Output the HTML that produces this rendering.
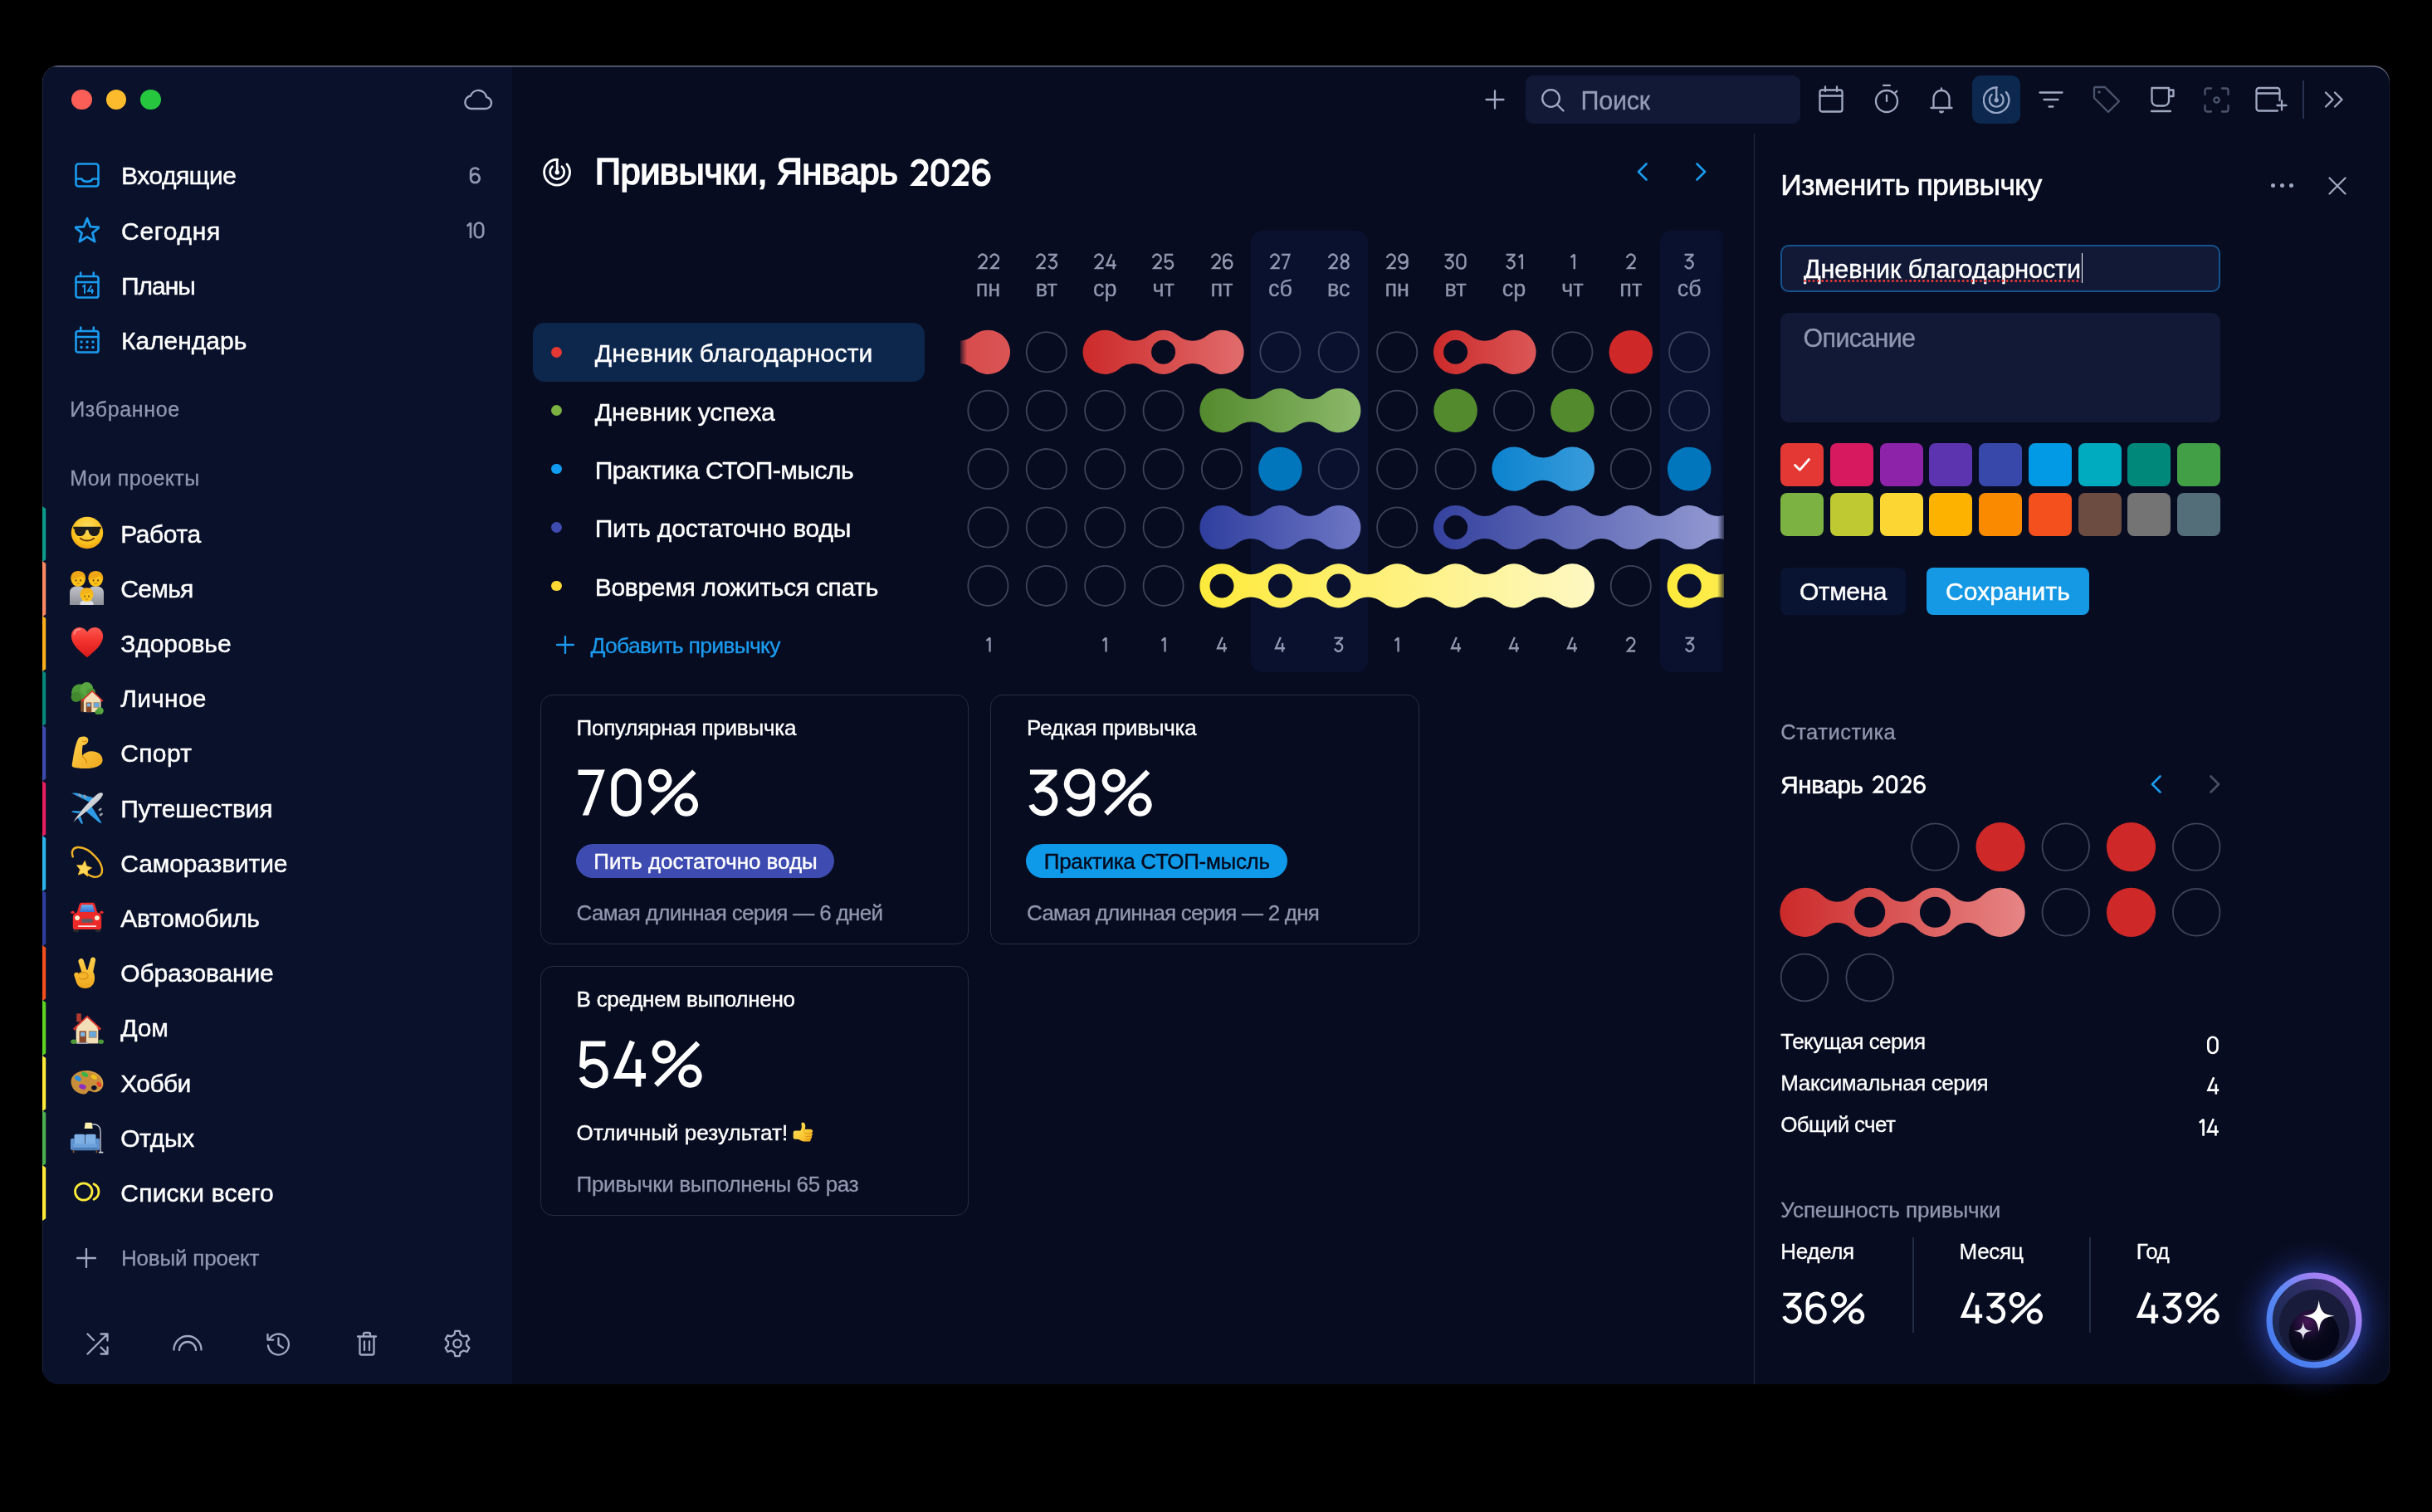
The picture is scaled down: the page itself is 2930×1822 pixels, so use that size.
<!DOCTYPE html>
<html lang="ru"><head><meta charset="utf-8"><title>Привычки</title>
<style>
html,body{margin:0;padding:0;background:#000;}
body{width:2930px;height:1822px;position:relative;overflow:hidden;font-family:"Liberation Sans", sans-serif;}
.b{position:absolute;display:block;box-sizing:border-box;}
.t{position:absolute;white-space:pre;line-height:1;font-family:"Liberation Sans", sans-serif;}
#root{position:absolute;left:0;top:0;width:2930px;height:1822px;will-change:transform;opacity:.9999;}
</style></head>
<body>
<div id="root">
<div class="b" style="left:51px;top:79px;width:2828px;height:1589px;border-radius:20px;background:#080d21;overflow:hidden;box-shadow:inset 0 1.5px 0 rgba(190,196,215,.55), inset 1px 0 0 rgba(255,255,255,.10), inset -1px 0 0 rgba(255,255,255,.06);"><div class="b" style="left:0;top:0;width:566px;height:1589px;background:#0b122c;box-shadow:inset 0 1.5px 0 rgba(190,196,215,.55), inset 1px 0 0 rgba(255,255,255,.10);"></div></div>
<div class="b" style="left:86.20px;top:107.90px;width:24.60px;height:24.60px;background:#fc5f57;border-radius:13px;"></div>
<div class="b" style="left:127.60px;top:107.90px;width:24.60px;height:24.60px;background:#fcbc2e;border-radius:13px;"></div>
<div class="b" style="left:169.00px;top:107.90px;width:24.60px;height:24.60px;background:#27c840;border-radius:13px;"></div>
<svg class="b" style="left:558.00px;top:106.00px;" width="36" height="28" viewBox="0 0 36 28"><path d="M9.5 25 H27 a7 7 0 0 0 1.2-13.9 A10 10 0 0 0 9 9.5 a7.8 7.8 0 0 0 .5 15.5z" fill="none" stroke="#a2aac3" stroke-width="2.3" stroke-linejoin="round"/></svg>
<svg class="b" style="left:89.70px;top:193.90px;" width="30" height="33" viewBox="0 -2 30 33"><rect x="1.5" y="1.5" width="27" height="27" rx="3" fill="none" stroke="#1c9cf0" stroke-width="2.6" stroke-linecap="round" stroke-linejoin="round"/><path d="M1.5 19.5 h7 c1.5 4.5 11.5 4.5 13 0 h7" fill="none" stroke="#1c9cf0" stroke-width="2.6" stroke-linecap="round" stroke-linejoin="round"/></svg>
<span class="t" style="left:146.00px;top:197.30px;font-size:30px;color:#fff;letter-spacing:-0.464px;-webkit-text-stroke:0.45px #fff;">Входящие</span>
<svg class="b" style="left:564.42px;top:200.00px" width="16.78" height="22.80" viewBox="-10 -10 88.30 120"><g transform="translate(0.00 0)"><g transform="rotate(180 34.15 50)"><path d="M34.1 3.85 a27.85 27.85 0 1 0 .01 0z M61.95 31.7 V68.9 A27.85 27.85 0 0 1 10.5 83.66" fill="none" stroke="#9198b0" stroke-width="13.9" /></g></g></svg>
<svg class="b" style="left:89.70px;top:260.15px;" width="30" height="33" viewBox="0 -2 30 33"><path transform="translate(15 15.500) scale(1.07) translate(-15 -15.200)" d="M15 1.8 l3.7 9.3 10 .7 -7.7 6.4 2.5 9.7 L15 22.5 6.5 27.9 9 18.2 1.3 11.8 l10-.7z" fill="none" stroke="#1c9cf0" stroke-width="2.6" stroke-linecap="round" stroke-linejoin="round"/></svg>
<span class="t" style="left:146.00px;top:263.55px;font-size:30px;color:#fff;letter-spacing:0.719px;-webkit-text-stroke:0.45px #fff;">Сегодня</span>
<svg class="b" style="left:559.93px;top:266.25px" width="25.27" height="22.80" viewBox="-10 -10 133.00 120"><g transform="translate(0.00 0)"><path d="M4 24 L26.85 4.5 V100" fill="none" stroke="#9198b0" stroke-width="13.9" stroke-linejoin="miter" stroke-miterlimit="2"/></g><g transform="translate(46.60 0)"><path d="M6.15 31.8 A27.05 28.5 0 0 1 60.25 31.8 V68.2 A27.05 28.5 0 0 1 6.15 68.2z" fill="none" stroke="#9198b0" stroke-width="13.9" /></g></svg>
<svg class="b" style="left:89.70px;top:327.20px;" width="30" height="33" viewBox="0 -2 30 33"><rect x="1.5" y="4" width="27" height="25.500" rx="2.600" fill="none" stroke="#1c9cf0" stroke-width="2.6" stroke-linecap="round" stroke-linejoin="round"/><path d="M1.5 11 h27 M7.200 -0.500 v4.500 M22.800 -0.500 v4.500" fill="none" stroke="#1c9cf0" stroke-width="2.6" stroke-linecap="round" stroke-linejoin="round"/><path d="M9.300 16.800 l2.700-2 V24.700 M20.300 15 l-4.300 6.800 h6.800 M21 19 v5.700" fill="none" stroke="#1c9cf0" stroke-width="2" stroke-linejoin="miter"/></svg>
<span class="t" style="left:146.00px;top:329.80px;font-size:30px;color:#fff;letter-spacing:-1.023px;-webkit-text-stroke:0.45px #fff;">Планы</span>
<svg class="b" style="left:89.70px;top:393.45px;" width="30" height="33" viewBox="0 -2 30 33"><rect x="1.5" y="4" width="27" height="25.500" rx="2.600" fill="none" stroke="#1c9cf0" stroke-width="2.6" stroke-linecap="round" stroke-linejoin="round"/><path d="M1.5 11 h27 M7.200 -0.500 v4.500 M22.800 -0.500 v4.500" fill="none" stroke="#1c9cf0" stroke-width="2.6" stroke-linecap="round" stroke-linejoin="round"/><circle cx="8" cy="17" r="1.700" fill="#1c9cf0"/><circle cx="15" cy="17" r="1.700" fill="#1c9cf0"/><circle cx="22" cy="17" r="1.700" fill="#1c9cf0"/><circle cx="8" cy="23.5" r="1.700" fill="#1c9cf0"/><circle cx="15" cy="23.5" r="1.700" fill="#1c9cf0"/><circle cx="22" cy="23.5" r="1.700" fill="#1c9cf0"/></svg>
<span class="t" style="left:146.00px;top:396.05px;font-size:30px;color:#fff;letter-spacing:-0.015px;-webkit-text-stroke:0.45px #fff;">Календарь</span>
<span class="t" style="left:84.20px;top:481.25px;font-size:25px;color:#9198b0;letter-spacing:0.662px;-webkit-text-stroke:0.3px #9198b0;">Избранное</span>
<span class="t" style="left:84.20px;top:563.75px;font-size:25px;color:#9198b0;letter-spacing:0.419px;-webkit-text-stroke:0.3px #9198b0;">Мои проекты</span>
<svg class="b" style="left:51px;top:609.60px" width="6" height="67.2" viewBox="0 0 6 67.2"><path d="M0 0 L4.2 3 V64.2 L0 67.2z" fill="#0e9c8c"/></svg>
<span class="t" style="left:145.30px;top:628.60px;font-size:30px;color:#fff;letter-spacing:-0.440px;-webkit-text-stroke:0.45px #fff;">Работа</span>
<svg class="b" style="left:84.80px;top:622.00px" width="40" height="40" viewBox="0 0 36 36">
<defs><radialGradient id="gFace" cx="50%" cy="35%" r="70%"><stop offset="0" stop-color="#ffe066"/><stop offset=".7" stop-color="#fcc21b"/><stop offset="1" stop-color="#ee9b14"/></radialGradient></defs>
<circle cx="18" cy="18" r="17.3" fill="url(#gFace)"/>
<path d="M3 11.5 h30 v2 l-1.200 .6 c-.4 5 -2.600 7.600 -6.300 7.600 -3.600 0 -5.600 -2.600 -6.300 -6.600 h-2.400 c-.7 4 -2.700 6.600 -6.300 6.600 -3.700 0 -5.900 -2.600 -6.300 -7.600 L3 13.500z" fill="#1d1d1f"/>
<path d="M10.500 24 c3.500 3.400 11.500 3.400 15 0" fill="none" stroke="#6b3c06" stroke-width="1.7" stroke-linecap="round"/></svg>
<svg class="b" style="left:51px;top:675.80px" width="6" height="67.2" viewBox="0 0 6 67.2"><path d="M0 0 L4.2 3 V64.2 L0 67.2z" fill="#ff8a65"/></svg>
<span class="t" style="left:145.30px;top:694.80px;font-size:30px;color:#fff;letter-spacing:-0.715px;-webkit-text-stroke:0.45px #fff;">Семья</span>
<svg class="b" style="left:84.30px;top:687.70px" width="41" height="41" viewBox="0 0 36 36">
<defs><linearGradient id="gGrey" x1="0" y1="0" x2="0" y2="1"><stop offset="0" stop-color="#c3c6cc"/><stop offset="1" stop-color="#8e9197"/></linearGradient></defs>
<path d="M0 36 V23 c0-4.500 3.500-7 8.500-7 s8.500 2.500 8.500 7 V36z" fill="url(#gGrey)"/>
<path d="M19 36 V23 c0-4.500 3.500-7 8.500-7 s8.500 2.500 8.500 7 V36z" fill="url(#gGrey)"/>
<circle cx="9" cy="8.800" r="7.600" fill="#fcc21b"/><path d="M1.200 9 c-.5-6 3-9 7.800-9 s8.300 3 7.800 9 c-2-1-3.200-2.800-3.700-4.500 -1.600 2.200-6.400 3.800-11.900 4.500z" fill="#f0a818"/>
<circle cx="27.500" cy="8.800" r="7.600" fill="#fcc21b"/><path d="M19.700 9 c-.5-6 3-9 7.800-9 s8.300 3 7.800 9 c-2-1-3.200-2.800-3.700-4.500 -1.600 2.200-6.400 3.800-11.900 4.500z" fill="#f0a818"/>
<path d="M11 36 v-1.500 c0-2.200 2.800-3.500 7-3.500 s7 1.300 7 3.500 v1.500z" fill="#dfe1e6"/>
<circle cx="18" cy="25.600" r="6.800" fill="#fcc21b"/><path d="M11 25.500 c-.3-5.200 2.900-7.700 7-7.700 s7.300 2.500 7 7.700 c-1.700-.9-2.800-2.300-3.300-3.700 -1.600 1.800-6.200 3.100-10.700 3.700z" fill="#f4b41e"/>
<circle cx="6.600" cy="10" r=".9" fill="#6a420c"/><circle cx="11.400" cy="10" r=".9" fill="#6a420c"/>
<circle cx="25.100" cy="10" r=".9" fill="#6a420c"/><circle cx="29.900" cy="10" r=".9" fill="#6a420c"/>
<circle cx="15.900" cy="26.800" r=".8" fill="#6a420c"/><circle cx="20.100" cy="26.800" r=".8" fill="#6a420c"/>
<path d="M7.800 13.200 h2.400 M26.300 13.200 h2.400 M17 29.800 h2" stroke="#b8720e" stroke-width=".7" stroke-linecap="round"/></svg>
<svg class="b" style="left:51px;top:742.00px" width="6" height="67.2" viewBox="0 0 6 67.2"><path d="M0 0 L4.2 3 V64.2 L0 67.2z" fill="#fbb01c"/></svg>
<span class="t" style="left:145.30px;top:761.00px;font-size:30px;color:#fff;letter-spacing:-0.091px;-webkit-text-stroke:0.45px #fff;">Здоровье</span>
<svg class="b" style="left:84.80px;top:754.40px" width="40" height="40" viewBox="0 0 36 36">
<defs><linearGradient id="gHeart" x1="0" y1="0" x2="0" y2="1"><stop offset="0" stop-color="#ff5a52"/><stop offset=".45" stop-color="#f3342e"/><stop offset="1" stop-color="#d81a1a"/></linearGradient></defs>
<path d="M18 34.500 C9 27 .8 20 .8 11.500 .8 5.500 5 1.800 9.800 1.800 c3.600 0 6.500 2 8.200 5 1.700-3 4.600-5 8.200-5 4.800 0 9 3.700 9 9.700 0 8.500-8.200 15.500-17.200 23z" fill="url(#gHeart)"/>
<path d="M4 9 c.8-3.500 3.500-5.200 6.300-5 " fill="none" stroke="#ff9d96" stroke-width="1.600" stroke-linecap="round" opacity=".8"/></svg>
<svg class="b" style="left:51px;top:808.20px" width="6" height="67.2" viewBox="0 0 6 67.2"><path d="M0 0 L4.2 3 V64.2 L0 67.2z" fill="#07897c"/></svg>
<span class="t" style="left:145.30px;top:827.20px;font-size:30px;color:#fff;letter-spacing:0.237px;-webkit-text-stroke:0.45px #fff;">Личное</span>
<svg class="b" style="left:84.80px;top:820.60px" width="40" height="40" viewBox="0 0 36 36">
<circle cx="10" cy="12" r="9" fill="#4e9a38"/><circle cx="17.500" cy="8" r="7" fill="#5aa842"/><circle cx="6" cy="17" r="5.500" fill="#438a30"/><circle cx="22" cy="12" r="5" fill="#4e9a38"/>
<rect x="11" y="19" width="3" height="14" fill="#7a4a22"/>
<g transform="translate(9.5 6.5) scale(0.78)">
<rect x="6" y="16" width="24" height="18.500" fill="#f3dfb8"/>
<path d="M2.500 18.500 L18 4 33.500 18.500 31.500 20.300 18 8 4.500 20.300z" fill="#d8322c"/>
<path d="M6 17.500 L18 6.500 30 17.500z" fill="#f3dfb8"/>
<rect x="9.500" y="21" width="7.500" height="13.500" fill="#8a4a2a"/><rect x="10.800" y="22.300" width="4.900" height="4.500" fill="#7db7e8"/>
<rect x="20" y="21" width="8" height="7" fill="#6aa9e0" stroke="#b78a52" stroke-width=".8"/>
</g>
<circle cx="32" cy="32" r="3.800" fill="#5aa842"/><circle cx="29" cy="33.500" r="2.500" fill="#4e9a38"/></svg>
<svg class="b" style="left:51px;top:874.40px" width="6" height="67.2" viewBox="0 0 6 67.2"><path d="M0 0 L4.2 3 V64.2 L0 67.2z" fill="#3f4db0"/></svg>
<span class="t" style="left:145.30px;top:893.40px;font-size:30px;color:#fff;letter-spacing:0.331px;-webkit-text-stroke:0.45px #fff;">Спорт</span>
<svg class="b" style="left:84.80px;top:886.80px" width="40" height="40" viewBox="0 0 36 36">
<defs><linearGradient id="gArm" x1="0" y1="0" x2="1" y2="1"><stop offset="0" stop-color="#ffd24d"/><stop offset="1" stop-color="#f0a81e"/></linearGradient></defs>
<path d="M8.500 2.500 c2-2.200 7-2.700 9.500-.8 1.800 1.400 1.500 4.500-.3 6.300 -1.200 1.200-3 1.700-4.500 1.900 -.6 3.500-1 7.500-.4 11.500 3-4.500 9-6 14.500-4.300 5 1.500 8 5.500 7.300 10 -.5 3.500-4 6-9 7 -8 1.600-17 1.300-22.300-.3 -1.500-.5-2-1.600-1.700-3.200 C3.300 21 4.500 10 8.500 2.500z" fill="url(#gArm)"/>
<path d="M12.500 22 c2.500 1.500 4.500 4 5 7" fill="none" stroke="#d98d12" stroke-width="1.200" stroke-linecap="round"/>
<path d="M13 5.500 c1.500.8 3.500.6 4.800-.5" fill="none" stroke="#d98d12" stroke-width="1" stroke-linecap="round"/></svg>
<svg class="b" style="left:51px;top:940.60px" width="6" height="67.2" viewBox="0 0 6 67.2"><path d="M0 0 L4.2 3 V64.2 L0 67.2z" fill="#e81e63"/></svg>
<span class="t" style="left:145.30px;top:959.60px;font-size:30px;color:#fff;letter-spacing:-0.179px;-webkit-text-stroke:0.45px #fff;">Путешествия</span>
<svg class="b" style="left:84.80px;top:953.00px" width="40" height="40" viewBox="0 0 36 36">
<defs><linearGradient id="gFus" x1="0" y1="0" x2="1" y2="1"><stop offset="0" stop-color="#f4f6f8"/><stop offset="1" stop-color="#a9aeb6"/></linearGradient></defs>
<path d="M20 12 L1 2.500 l5.500-.3 L27 8z" fill="#2f9be6"/>
<path d="M23 17 L34 35 l-3.200-.8 L16.500 22z" fill="#2f9be6"/>
<path d="M8.500 24.500 L.8 23 l1.800-1.500 9.500.5z" fill="#2f9be6"/><path d="M11 27.500 l2.500 8 -1.800.2 -4-6.500z" fill="#2f9be6"/>
<path d="M3 34 L5.500 30 C10 23 22 9 29 3.500 c2.200-1.700 5-2 5.800-1 .8 1-.2 3.500-2 5.500 C27 14.500 13 26 6.500 30.500z" fill="url(#gFus)"/>
<rect x="9" y="3" width="2.300" height="4" rx="1" transform="rotate(-35 10 5)" fill="#9aa0a8"/><rect x="14.500" y="4" width="2.300" height="4" rx="1" transform="rotate(-35 15.500 6)" fill="#9aa0a8"/>
<rect x="30" y="19" width="4" height="2.300" rx="1" transform="rotate(-35 32 20)" fill="#9aa0a8"/><rect x="31" y="24.500" width="4" height="2.300" rx="1" transform="rotate(-35 33 25.500)" fill="#9aa0a8"/></svg>
<svg class="b" style="left:51px;top:1006.80px" width="6" height="67.2" viewBox="0 0 6 67.2"><path d="M0 0 L4.2 3 V64.2 L0 67.2z" fill="#2bb5e8"/></svg>
<span class="t" style="left:145.30px;top:1025.80px;font-size:30px;color:#fff;letter-spacing:-0.134px;-webkit-text-stroke:0.45px #fff;">Саморазвитие</span>
<svg class="b" style="left:84.80px;top:1019.20px" width="40" height="40" viewBox="0 0 36 36">
<path d="M2.500 12 C-2 -1 14 -2 27 12 c9 9.500 9 19 3 21.500 -4 1.600-9-.5-13-3.500" fill="none" stroke="#f0b323" stroke-width="2.200" stroke-linecap="round"/>
<path d="M15.500 16.500 l2 5.800 5.500 1.700 -4.700 3.300 .3 6 -4.600-3.700 -5.600 2 2-5.600 -3.600-4.700 6 .1z" fill="#ffd95a" stroke="#f3b82a" stroke-width=".8" stroke-linejoin="round"/></svg>
<svg class="b" style="left:51px;top:1073.00px" width="6" height="67.2" viewBox="0 0 6 67.2"><path d="M0 0 L4.2 3 V64.2 L0 67.2z" fill="#303f9f"/></svg>
<span class="t" style="left:145.30px;top:1092.00px;font-size:30px;color:#fff;letter-spacing:-0.252px;-webkit-text-stroke:0.45px #fff;">Автомобиль</span>
<svg class="b" style="left:84.80px;top:1085.40px" width="40" height="40" viewBox="0 0 36 36">
<defs><linearGradient id="gGlass" x1="0" y1="0" x2="0" y2="1"><stop offset="0" stop-color="#6ab6f2"/><stop offset="1" stop-color="#3a6fd0"/></linearGradient></defs>
<rect x="3" y="28" width="6" height="6.500" rx="1.500" fill="#2a2a2e"/><rect x="27" y="28" width="6" height="6.500" rx="1.500" fill="#2a2a2e"/>
<path d="M7 13 L9.500 4.500 C10 3 11 2.500 12.500 2.500 h11 c1.500 0 2.500.5 3 2 L29 13 c3 .5 4.500 2.500 4.500 5 V29 c0 1.500-1 2.500-2.500 2.500 H5 c-1.500 0-2.500-1-2.500-2.500 V18 c0-2.500 1.500-4.500 4.500-5z" fill="#ee2b2b"/>
<path d="M9.800 12.500 L11.700 5.800 C12 5 12.500 4.700 13.300 4.700 h9.400 c.8 0 1.300.3 1.600 1.100 L26.200 12.500z" fill="url(#gGlass)"/>
<ellipse cx="2.300" cy="13" rx="2" ry="1.500" fill="#ee2b2b"/><ellipse cx="33.700" cy="13" rx="2" ry="1.500" fill="#ee2b2b"/>
<circle cx="7.300" cy="19" r="2.600" fill="#fff3d6"/><circle cx="28.700" cy="19" r="2.600" fill="#fff3d6"/>
<rect x="12" y="20" width="12" height="4" rx="1" fill="#5a5d66"/>
<rect x="8" y="27.200" width="20" height="1.600" rx=".8" fill="#fff" opacity=".85"/></svg>
<svg class="b" style="left:51px;top:1139.20px" width="6" height="67.2" viewBox="0 0 6 67.2"><path d="M0 0 L4.2 3 V64.2 L0 67.2z" fill="#f4511e"/></svg>
<span class="t" style="left:145.30px;top:1158.20px;font-size:30px;color:#fff;letter-spacing:-0.145px;-webkit-text-stroke:0.45px #fff;">Образование</span>
<svg class="b" style="left:84.80px;top:1151.60px" width="40" height="40" viewBox="0 0 36 36">
<defs><linearGradient id="gHand" x1="0" y1="0" x2="0" y2="1"><stop offset="0" stop-color="#ffd24d"/><stop offset="1" stop-color="#f0a81e"/></linearGradient></defs>
<path d="M10.500 3 c1.500-.6 3 .2 3.600 1.800 L17.500 15 l1 0 3.200-11.500 c.5-1.600 2-2.400 3.500-1.900 1.500.5 2.200 2 1.800 3.600 L24.500 17 c1.500 2.500 2 5.500 1.500 9 -.8 5.500-4.500 9-10 9 -4.500 0-8-2-9.500-6 L4 21.500 c-.6-1.700.2-3 1.500-3.500 1.200-.5 2.400 0 3.200 1 L12 17 8.600 6.800 C8 5.200 8.900 3.600 10.500 3z" fill="url(#gHand)"/>
<path d="M8.500 19.500 c3-2.500 8-2.500 10 .3 1.200 1.800.3 3.800-1.500 4.600 -2.500 1-5.500.8-7.500-.4" fill="#f6b62c" stroke="#d98d12" stroke-width="1" stroke-linecap="round"/></svg>
<svg class="b" style="left:51px;top:1205.40px" width="6" height="67.2" viewBox="0 0 6 67.2"><path d="M0 0 L4.2 3 V64.2 L0 67.2z" fill="#5fd421"/></svg>
<span class="t" style="left:145.30px;top:1224.40px;font-size:30px;color:#fff;letter-spacing:-0.234px;-webkit-text-stroke:0.45px #fff;">Дом</span>
<svg class="b" style="left:84.80px;top:1217.80px" width="40" height="40" viewBox="0 0 36 36">
<rect x="6.500" y="3" width="5" height="9" fill="#b23a2e"/>
<g transform="translate(0 1) scale(1.0)">
<rect x="6" y="16" width="24" height="18.500" fill="#f3dfb8"/>
<path d="M2.500 18.500 L18 4 33.500 18.500 31.500 20.300 18 8 4.500 20.300z" fill="#d8322c"/>
<path d="M6 17.500 L18 6.500 30 17.500z" fill="#f3dfb8"/>
<rect x="9.500" y="21" width="7.500" height="13.500" fill="#8a4a2a"/><rect x="10.800" y="22.300" width="4.900" height="4.500" fill="#7db7e8"/>
<rect x="20" y="21" width="8" height="7" fill="#6aa9e0" stroke="#b78a52" stroke-width=".8"/>
</g>
<ellipse cx="3.500" cy="33.500" rx="3.300" ry="2.500" fill="#4e9a38"/><ellipse cx="33" cy="33.500" rx="3" ry="2.500" fill="#4e9a38"/>
<rect x="7" y="34.500" width="12" height="1.500" fill="#9aa0b0"/></svg>
<svg class="b" style="left:51px;top:1271.60px" width="6" height="67.2" viewBox="0 0 6 67.2"><path d="M0 0 L4.2 3 V64.2 L0 67.2z" fill="#fdeb3a"/></svg>
<span class="t" style="left:145.30px;top:1290.60px;font-size:30px;color:#fff;letter-spacing:-0.621px;-webkit-text-stroke:0.45px #fff;">Хобби</span>
<svg class="b" style="left:84.80px;top:1284.00px" width="40" height="40" viewBox="0 0 36 36">
<path d="M17 5.500 C27 5.500 35.500 11.500 35.500 19.500 c0 5.500-4.500 9.500-9.500 9.500 -2.500 0-3.500-1.500-5.500-1.500 -2.500 0-2 3.500-5.500 3.500 C7 31 .5 25 .5 17.500 .5 10.500 8 5.500 17 5.500z M25.500 21.500 a3 2.600 0 1 0 .01 0z" fill="#c98f3a" fill-rule="evenodd"/>
<path d="M17 6.500 C26.500 6.500 34.500 12 34.500 19.500 c0 5-4 8.500-8.500 8.500" fill="none" stroke="#e0aa55" stroke-width="1"/>
<ellipse cx="8" cy="14" rx="4" ry="2.500" transform="rotate(35 8 14)" fill="#2f8fe0"/>
<ellipse cx="15.500" cy="9.800" rx="3.800" ry="2.300" transform="rotate(25 15.500 9.800)" fill="#3bb54a"/>
<ellipse cx="25.500" cy="12.500" rx="3.500" ry="2.200" transform="rotate(30 25.500 12.500)" fill="#f2c21c"/>
<ellipse cx="31" cy="20.500" rx="3.200" ry="2.100" transform="rotate(50 31 20.500)" fill="#e8452c"/>
<ellipse cx="13" cy="23" rx="4" ry="2.600" transform="rotate(20 13 23)" fill="#8e2fc2"/></svg>
<svg class="b" style="left:51px;top:1337.80px" width="6" height="67.2" viewBox="0 0 6 67.2"><path d="M0 0 L4.2 3 V64.2 L0 67.2z" fill="#4caf50"/></svg>
<span class="t" style="left:145.30px;top:1356.80px;font-size:30px;color:#fff;letter-spacing:-0.314px;-webkit-text-stroke:0.45px #fff;">Отдых</span>
<svg class="b" style="left:84.80px;top:1350.20px" width="40" height="40" viewBox="0 0 36 36">
<path d="M32.500 35 V13 C32.500 5 27 3 21 5" fill="none" stroke="#c9ccd4" stroke-width="1.200"/>
<rect x="30.500" y="34" width="5" height="1.600" rx=".8" fill="#d5d8de"/>
<path d="M16 2.500 h7 l1 6.500 h-9z" fill="#fff1b0"/>
<rect x="4" y="15" width="11.500" height="12" rx="1.500" fill="#7fb0e6"/><rect x="16" y="15" width="11.500" height="12" rx="1.500" fill="#7fb0e6"/>
<rect x="0" y="19.500" width="4.500" height="13" rx="1.800" fill="#5f93cf"/><rect x="27" y="19.500" width="4.500" height="13" rx="1.800" fill="#5f93cf"/>
<rect x="3" y="25.500" width="25.500" height="4.500" rx="1" fill="#6ea3dd"/><rect x="2" y="29.500" width="27.500" height="3.200" fill="#4f7fb8"/>
<rect x="2.500" y="32.700" width="1.500" height="2.600" fill="#8a5a2c"/><rect x="27.500" y="32.700" width="1.500" height="2.600" fill="#8a5a2c"/></svg>
<svg class="b" style="left:51px;top:1404.00px" width="6" height="67.2" viewBox="0 0 6 67.2"><path d="M0 0 L4.2 3 V64.2 L0 67.2z" fill="#fdeb3a"/></svg>
<span class="t" style="left:145.30px;top:1423.00px;font-size:30px;color:#fff;letter-spacing:0.214px;-webkit-text-stroke:0.45px #fff;">Списки всего</span>
<svg class="b" style="left:87.80px;top:1419.40px" width="34" height="34" viewBox="0 0 36 36">
<circle cx="13.500" cy="18" r="10.800" fill="none" stroke="#fdeb3a" stroke-width="3"/>
<path d="M26.500 8.200 A10.800 10.800 0 0 1 26.500 27.800" fill="none" stroke="#fdeb3a" stroke-width="3" stroke-linecap="round"/></svg>
<svg class="b" style="left:92.40px;top:1503.90px;" width="24" height="24" viewBox="0 0 24 24"><path d="M12 1 v22 M1 12 h22" stroke="#a2aac3" stroke-width="2.3" stroke-linecap="round"/></svg>
<span class="t" style="left:146.00px;top:1502.90px;font-size:26px;color:#9198b0;letter-spacing:-0.203px;-webkit-text-stroke:0.3px #9198b0;">Новый проект</span>
<svg class="b" style="left:103.50px;top:1605.70px;" width="27" height="27" viewBox="0 0 27 27"><path d="M1.500 25.500 L25.500 1.500 M17.500 1.500 h8 v8 M1.500 1.500 l7.500 7.500 M17.500 17.500 l8 8 M17.500 25.500 h8 v-8" fill="none" stroke="#a2aac3" stroke-width="2.3" stroke-linecap="round" stroke-linejoin="round"/></svg>
<svg class="b" style="left:207.80px;top:1607.80px;" width="36" height="20" viewBox="0 0 36 20"><path d="M1.500 18.500 A 16.500 16.500 0 0 1 34.500 18.500 M8 19 A 10 10 0 0 1 28 19" fill="none" stroke="#a2aac3" stroke-width="2.3" stroke-linecap="round" stroke-linejoin="round"/></svg>
<svg class="b" style="left:319.50px;top:1603.50px;" width="31" height="31" viewBox="0 -0.5 31 31"><path d="M4.2 10 A 12.5 12.5 0 1 1 3 17 M2.5 3.5 V10.2 H9.2 M15.5 8 V16 L21 19.5" fill="none" stroke="#a2aac3" stroke-width="2.3" stroke-linecap="round" stroke-linejoin="round"/></svg>
<svg class="b" style="left:429.00px;top:1603.50px;" width="26" height="31" viewBox="0 0 26 30"><path d="M2 6 H24 M9 6 V3 a1.5 1.5 0 0 1 1.5-1.5 h5 A1.5 1.5 0 0 1 17 3 V6 M4.5 6 V26 a2 2 0 0 0 2 2 H19.5 a2 2 0 0 0 2-2 V6 M10 12 V22.5 M16 12 V22.5" fill="none" stroke="#a2aac3" stroke-width="2.3" stroke-linecap="round" stroke-linejoin="round"/></svg>
<svg class="b" style="left:533.80px;top:1602.00px;" width="34" height="34" viewBox="0 0 34 34"><path d="M14.29 1.94 L19.71 1.94 L20.60 6.29 L24.47 8.52 L28.69 7.12 L31.40 11.82 L28.08 14.77 L28.08 19.23 L31.40 22.18 L28.69 26.88 L24.47 25.48 L20.60 27.71 L19.71 32.06 L14.29 32.06 L13.40 27.71 L9.53 25.48 L5.31 26.88 L2.60 22.18 L5.92 19.23 L5.92 14.77 L2.60 11.82 L5.31 7.12 L9.53 8.52 L13.40 6.29z" fill="none" stroke="#a2aac3" stroke-width="2.3" stroke-linecap="round" stroke-linejoin="round" stroke-linejoin="round"/><circle cx="17" cy="17" r="4.700" fill="none" stroke="#a2aac3" stroke-width="2.3" stroke-linecap="round" stroke-linejoin="round"/></svg>
<svg class="b" style="left:1788.70px;top:108.00px;" width="24" height="24" viewBox="0 0 24 24"><path d="M12 1.500 v21 M1.500 12 h21" fill="none" stroke="#a2aac3" stroke-width="2.3" stroke-linecap="round" stroke-linejoin="round"/></svg>
<div class="b" style="left:1838.00px;top:91.00px;width:331.00px;height:58.00px;background:#121a38;border-radius:9px;"></div>
<svg class="b" style="left:1856.00px;top:106.00px;" width="30" height="30" viewBox="0 0 30 30"><circle cx="12.500" cy="12.500" r="10.300" fill="none" stroke="#a2aac3" stroke-width="2.3" stroke-linecap="round" stroke-linejoin="round"/><path d="M20 20 l7.500 7.500" fill="none" stroke="#a2aac3" stroke-width="2.3" stroke-linecap="round" stroke-linejoin="round"/></svg>
<span class="t" style="left:1904.50px;top:105.77px;font-size:30.5px;color:#959db6;letter-spacing:-0.254px;-webkit-text-stroke:0.3px #959db6;">Поиск</span>
<svg class="b" style="left:2191.40px;top:103.00px;" width="30" height="34" viewBox="0 0 30 34"><rect x="1.500" y="5.500" width="27" height="26" rx="2.500" fill="none" stroke="#a2aac3" stroke-width="2.3" stroke-linecap="round" stroke-linejoin="round"/><path d="M1.500 12.500 h27 M8 1.500 v5.500 M22 1.500 v5.500" fill="none" stroke="#a2aac3" stroke-width="2.3" stroke-linecap="round" stroke-linejoin="round"/></svg>
<svg class="b" style="left:2257.70px;top:101.00px;" width="30" height="36" viewBox="0 0 30 36"><circle cx="15" cy="21" r="13" fill="none" stroke="#a2aac3" stroke-width="2.3" stroke-linecap="round" stroke-linejoin="round"/><path d="M11 1.800 h8 M15 14 v7 M25.500 10.500 l1.800-1.800" fill="none" stroke="#a2aac3" stroke-width="2.3" stroke-linecap="round" stroke-linejoin="round"/></svg>
<svg class="b" style="left:2324.80px;top:102.50px;" width="28" height="35" viewBox="0 0 28 35"><path d="M1.500 27 h25 M4.500 27 V15.500 a9.500 9.500 0 0 1 19 0 V27 M14 6 V3.500" fill="none" stroke="#a2aac3" stroke-width="2.3" stroke-linecap="round" stroke-linejoin="round"/><path d="M11 30.500 a3 3 0 0 0 6 0z" fill="#a2aac3" stroke="none"/></svg>
<div class="b" style="left:2376.30px;top:91.20px;width:57.60px;height:57.60px;background:#0d2950;border-radius:10px;"></div>
<svg class="b" style="left:2388.50px;top:103.50px;" width="33" height="33" viewBox="0 0 32.500 32.500"><path d="M16.500 1.500 A15 15 0 1 0 27.500 7" fill="none" stroke="#9aa7c4" stroke-width="2.3" stroke-linecap="round"/><path d="M10.500 9.800 A8.300 8.300 0 1 0 21.500 9.800" fill="none" stroke="#9aa7c4" stroke-width="2.3" stroke-linecap="round"/><path d="M16 1.500 V15.500" fill="none" stroke="#9aa7c4" stroke-width="2.3" stroke-linecap="round"/><circle cx="16" cy="16.500" r="2.600" fill="#9aa7c4"/></svg>
<svg class="b" style="left:2456.20px;top:110.00px;" width="30" height="20" viewBox="0 0 30 20"><path d="M1.500 1.500 h27 M6.500 10 h17 M12.500 18.500 h5" fill="none" stroke="#a2aac3" stroke-width="2.3" stroke-linecap="round" stroke-linejoin="round"/></svg>
<svg class="b" style="left:2520.60px;top:103.00px;" width="34" height="34" viewBox="0 0 34 34"><path d="M2 3.500 a1.500 1.500 0 0 1 1.500-1.500 h11.500 l17 17 -13 13 -17-17z" fill="none" stroke="#4d556e" stroke-width="2.3" stroke-linecap="round" stroke-linejoin="round"/><circle cx="8" cy="8" r="1.800" fill="#4d556e"/></svg>
<svg class="b" style="left:2589.00px;top:104.00px;" width="32" height="32" viewBox="0 0 32 32"><path d="M3.500 2 H24 V17.500 a6 6 0 0 1 -6 6 H9.500 a6 6 0 0 1 -6-6z M24 4.500 h5.500 v7.500 h-5.500 M3 30 h23" fill="none" stroke="#a2aac3" stroke-width="2.3" stroke-linecap="round" stroke-linejoin="round"/></svg>
<svg class="b" style="left:2654.50px;top:104.50px;" width="31" height="31" viewBox="0 0 31 31"><path d="M1.500 9 V4 a2.500 2.500 0 0 1 2.500-2.500 h5 M22 1.500 h5 a2.500 2.500 0 0 1 2.500 2.500 v5 M29.500 22 v5 a2.500 2.500 0 0 1 -2.500 2.500 h-5 M9 29.500 H4 a2.500 2.500 0 0 1 -2.500-2.500 v-5" fill="none" stroke="#4d556e" stroke-width="2.3" stroke-linecap="round" stroke-linejoin="round"/><circle cx="15.500" cy="15.500" r="3.200" fill="none" stroke="#4d556e" stroke-width="2.3" stroke-linecap="round" stroke-linejoin="round"/></svg>
<svg class="b" style="left:2717.30px;top:104.00px;" width="40" height="32" viewBox="0 0 40 32"><path d="M27 29.500 H4.500 a3 3 0 0 1 -3-3 V5 a3 3 0 0 1 3-3 H26.500 a3 3 0 0 1 3 3 V17 M1.500 8.500 h28 M32 17.500 v11 M26.500 23 h11" fill="none" stroke="#a2aac3" stroke-width="2.3" stroke-linecap="round" stroke-linejoin="round"/></svg>
<div class="b" style="left:2774.00px;top:97.00px;width:1.50px;height:46.00px;background:#2b3350;"></div>
<svg class="b" style="left:2800.00px;top:110.00px;" width="24" height="20" viewBox="0 0 24 20"><path d="M2 1.500 l8.500 8.500 -8.500 8.500 M13 1.500 l8.500 8.500 -8.500 8.500" fill="none" stroke="#a2aac3" stroke-width="2.3" stroke-linecap="round" stroke-linejoin="round"/></svg>
<svg class="b" style="left:654.10px;top:189.70px;" width="35" height="35" viewBox="-0.7 -0.7 34 34"><path d="M16.500 1.500 A15 15 0 1 0 27.500 7" fill="none" stroke="#ffffff" stroke-width="2.7" stroke-linecap="round"/><path d="M10.500 9.800 A8.300 8.300 0 1 0 21.500 9.800" fill="none" stroke="#ffffff" stroke-width="2.7" stroke-linecap="round"/><path d="M16 1.500 V15.500" fill="none" stroke="#ffffff" stroke-width="2.7" stroke-linecap="round"/><circle cx="16" cy="16.500" r="2.600" fill="#ffffff"/></svg>
<span class="t" style="left:716.80px;top:186.22px;font-size:43.5px;color:#fff;letter-spacing:-0.560px;-webkit-text-stroke:1.6px #fff;">Привычки, Январь</span>
<svg class="b" style="left:1095.14px;top:189.60px" width="100.56" height="36.00" viewBox="-10 -10 335.20 120"><g transform="translate(0.00 0)"><path d="M5.96 27.27 A26.8 26.8 0 1 1 52.42 48.93 L13.5 93.85 H64" fill="none" stroke="#fff" stroke-width="18.3" stroke-linejoin="miter" stroke-miterlimit="6"/></g><g transform="translate(81.50 0)"><path d="M6.15 31.8 A27.05 28.5 0 0 1 60.25 31.8 V68.2 A27.05 28.5 0 0 1 6.15 68.2z" fill="none" stroke="#fff" stroke-width="18.3" /></g><g transform="translate(165.40 0)"><path d="M5.96 27.27 A26.8 26.8 0 1 1 52.42 48.93 L13.5 93.85 H64" fill="none" stroke="#fff" stroke-width="18.3" stroke-linejoin="miter" stroke-miterlimit="6"/></g><g transform="translate(246.90 0)"><g transform="rotate(180 34.15 50)"><path d="M34.1 3.85 a27.85 27.85 0 1 0 .01 0z M61.95 31.7 V68.9 A27.85 27.85 0 0 1 10.5 83.66" fill="none" stroke="#fff" stroke-width="18.3" /></g></g></svg>
<svg class="b" style="left:1972.20px;top:196.20px;" width="14" height="22" viewBox="0 0 14 22"><path d="M11.500 1.500 L2 11 l9.500 9.500" fill="none" stroke="#1c9cf0" stroke-width="2.600" stroke-linecap="round" stroke-linejoin="round"/></svg>
<svg class="b" style="left:2042.00px;top:196.20px;" width="14" height="22" viewBox="0 0 14 22"><path d="M2.500 1.500 L12 11 l-9.500 9.500" fill="none" stroke="#1c9cf0" stroke-width="2.600" stroke-linecap="round" stroke-linejoin="round"/></svg>
<div class="b" style="left:1507.20px;top:278.00px;width:140.80px;height:532.00px;background:#0b1230;border-radius:14px;"></div>
<div class="b" style="left:2000.00px;top:278px;width:77.00px;height:532px;background:#0b1230;border-radius:14px 0 0 14px;"></div>
<svg class="b" style="left:1175.53px;top:304.36px" width="29.73" height="22.08" viewBox="-10 -10 161.60 120"><g transform="translate(0.00 0)"><path d="M5.96 27.27 A26.8 26.8 0 1 1 52.42 48.93 L13.5 93.85 H64" fill="none" stroke="#9198b0" stroke-width="13.3" stroke-linejoin="miter" stroke-miterlimit="6"/></g><g transform="translate(77.60 0)"><path d="M5.96 27.27 A26.8 26.8 0 1 1 52.42 48.93 L13.5 93.85 H64" fill="none" stroke="#9198b0" stroke-width="13.3" stroke-linejoin="miter" stroke-miterlimit="6"/></g></svg>
<span class="t" style="left:1175.63px;top:334.85px;font-size:27px;color:#9198b0;-webkit-text-stroke:0.3px #9198b0;">пн</span>
<svg class="b" style="left:1185.68px;top:766.42px" width="9.43" height="21.36" viewBox="-10 -10 53.00 120"><g transform="translate(0.00 0)"><path d="M4 24 L26.85 4.5 V100" fill="none" stroke="#9198b0" stroke-width="13.3" stroke-linejoin="miter" stroke-miterlimit="2"/></g></svg>
<svg class="b" style="left:1245.82px;top:304.36px" width="29.96" height="22.08" viewBox="-10 -10 162.80 120"><g transform="translate(0.00 0)"><path d="M5.96 27.27 A26.8 26.8 0 1 1 52.42 48.93 L13.5 93.85 H64" fill="none" stroke="#9198b0" stroke-width="13.3" stroke-linejoin="miter" stroke-miterlimit="6"/></g><g transform="translate(77.60 0)"><path d="M4.4 0 L63.5 0 L63.5 11.1 L37.3 36.5 L19.8 51.6 L14.3 41.3 L46 11.1 L4.4 11.1z" fill="#9198b0" stroke="#9198b0" stroke-width="1.0"/><path d="M16.98 47.34 A26.4 26.4 0 1 1 7.39 76.86" fill="none" stroke="#9198b0" stroke-width="13.3" /></g></svg>
<span class="t" style="left:1247.74px;top:334.85px;font-size:27px;color:#9198b0;-webkit-text-stroke:0.3px #9198b0;">вт</span>
<svg class="b" style="left:1315.88px;top:304.36px" width="30.64" height="22.08" viewBox="-10 -10 166.50 120"><g transform="translate(0.00 0)"><path d="M5.96 27.27 A26.8 26.8 0 1 1 52.42 48.93 L13.5 93.85 H64" fill="none" stroke="#9198b0" stroke-width="13.3" stroke-linejoin="miter" stroke-miterlimit="6"/></g><g transform="translate(77.60 0)"><path d="M39.5 0.5 L6.8 76 H68.9" fill="none" stroke="#9198b0" stroke-width="13.3" stroke-linejoin="miter" stroke-miterlimit="6"/><path d="M52.3 40 V100" fill="none" stroke="#9198b0" stroke-width="13.3" /></g></svg>
<span class="t" style="left:1316.93px;top:334.85px;font-size:27px;color:#9198b0;-webkit-text-stroke:0.3px #9198b0;">ср</span>
<svg class="b" style="left:1326.48px;top:766.42px" width="9.43" height="21.36" viewBox="-10 -10 53.00 120"><g transform="translate(0.00 0)"><path d="M4 24 L26.85 4.5 V100" fill="none" stroke="#9198b0" stroke-width="13.3" stroke-linejoin="miter" stroke-miterlimit="2"/></g></svg>
<svg class="b" style="left:1386.46px;top:304.36px" width="30.29" height="22.08" viewBox="-10 -10 164.60 120"><g transform="translate(0.00 0)"><path d="M5.96 27.27 A26.8 26.8 0 1 1 52.42 48.93 L13.5 93.85 H64" fill="none" stroke="#9198b0" stroke-width="13.3" stroke-linejoin="miter" stroke-miterlimit="6"/></g><g transform="translate(77.60 0)"><path d="M6 0 L59.9 0 L59.9 12 L17.4 12 L15.5 45 L13.8 53.3 L3 56.9z" fill="#9198b0" stroke="#9198b0" stroke-width="1.0"/><path d="M9.57 59.54 A26.4 26.4 0 1 1 8.39 78.86" fill="none" stroke="#9198b0" stroke-width="13.3" /></g></svg>
<span class="t" style="left:1388.38px;top:334.85px;font-size:27px;color:#9198b0;-webkit-text-stroke:0.3px #9198b0;">чт</span>
<svg class="b" style="left:1396.88px;top:766.42px" width="9.43" height="21.36" viewBox="-10 -10 53.00 120"><g transform="translate(0.00 0)"><path d="M4 24 L26.85 4.5 V100" fill="none" stroke="#9198b0" stroke-width="13.3" stroke-linejoin="miter" stroke-miterlimit="2"/></g></svg>
<svg class="b" style="left:1456.74px;top:304.36px" width="30.53" height="22.08" viewBox="-10 -10 165.90 120"><g transform="translate(0.00 0)"><path d="M5.96 27.27 A26.8 26.8 0 1 1 52.42 48.93 L13.5 93.85 H64" fill="none" stroke="#9198b0" stroke-width="13.3" stroke-linejoin="miter" stroke-miterlimit="6"/></g><g transform="translate(77.60 0)"><g transform="rotate(180 34.15 50)"><path d="M34.1 3.85 a27.85 27.85 0 1 0 .01 0z M61.95 31.7 V68.9 A27.85 27.85 0 0 1 10.5 83.66" fill="none" stroke="#9198b0" stroke-width="13.3" /></g></g></svg>
<span class="t" style="left:1458.50px;top:334.85px;font-size:27px;color:#9198b0;-webkit-text-stroke:0.3px #9198b0;">пт</span>
<svg class="b" style="left:1464.09px;top:766.42px" width="15.82" height="21.36" viewBox="-10 -10 88.90 120"><g transform="translate(0.00 0)"><path d="M39.5 0.5 L6.8 76 H68.9" fill="none" stroke="#9198b0" stroke-width="13.3" stroke-linejoin="miter" stroke-miterlimit="6"/><path d="M52.3 40 V100" fill="none" stroke="#9198b0" stroke-width="13.3" /></g></svg>
<svg class="b" style="left:1528.02px;top:304.36px" width="28.76" height="22.08" viewBox="-10 -10 156.30 120"><g transform="translate(0.00 0)"><path d="M5.96 27.27 A26.8 26.8 0 1 1 52.42 48.93 L13.5 93.85 H64" fill="none" stroke="#9198b0" stroke-width="13.3" stroke-linejoin="miter" stroke-miterlimit="6"/></g><g transform="translate(77.60 0)"><path d="M0 0 L58.7 0 L22.8 100 L9.6 100 L44.3 12 L0 12z" fill="#9198b0" stroke="#9198b0" stroke-width="1.0"/></g></svg>
<span class="t" style="left:1527.92px;top:334.85px;font-size:27px;color:#9198b0;-webkit-text-stroke:0.3px #9198b0;">сб</span>
<svg class="b" style="left:1534.49px;top:766.42px" width="15.82" height="21.36" viewBox="-10 -10 88.90 120"><g transform="translate(0.00 0)"><path d="M39.5 0.5 L6.8 76 H68.9" fill="none" stroke="#9198b0" stroke-width="13.3" stroke-linejoin="miter" stroke-miterlimit="6"/><path d="M52.3 40 V100" fill="none" stroke="#9198b0" stroke-width="13.3" /></g></svg>
<svg class="b" style="left:1597.75px;top:304.36px" width="30.10" height="22.08" viewBox="-10 -10 163.60 120"><g transform="translate(0.00 0)"><path d="M5.96 27.27 A26.8 26.8 0 1 1 52.42 48.93 L13.5 93.85 H64" fill="none" stroke="#9198b0" stroke-width="13.3" stroke-linejoin="miter" stroke-miterlimit="6"/></g><g transform="translate(77.60 0)"><path d="M33 3.5 a22.5 22.5 0 1 0 .01 0z M33 48.5 a24.5 24.5 0 1 0 .01 0z" fill="none" stroke="#9198b0" stroke-width="13.3" /></g></svg>
<span class="t" style="left:1599.03px;top:334.85px;font-size:27px;color:#9198b0;-webkit-text-stroke:0.3px #9198b0;">вс</span>
<svg class="b" style="left:1605.22px;top:766.42px" width="15.17" height="21.36" viewBox="-10 -10 85.20 120"><g transform="translate(0.00 0)"><path d="M4.4 0 L63.5 0 L63.5 11.1 L37.3 36.5 L19.8 51.6 L14.3 41.3 L46 11.1 L4.4 11.1z" fill="#9198b0" stroke="#9198b0" stroke-width="1.0"/><path d="M16.98 47.34 A26.4 26.4 0 1 1 7.39 76.86" fill="none" stroke="#9198b0" stroke-width="13.3" /></g></svg>
<svg class="b" style="left:1667.94px;top:304.36px" width="30.53" height="22.08" viewBox="-10 -10 165.90 120"><g transform="translate(0.00 0)"><path d="M5.96 27.27 A26.8 26.8 0 1 1 52.42 48.93 L13.5 93.85 H64" fill="none" stroke="#9198b0" stroke-width="13.3" stroke-linejoin="miter" stroke-miterlimit="6"/></g><g transform="translate(77.60 0)"><path d="M34.1 3.85 a27.85 27.85 0 1 0 .01 0z M61.95 31.7 V68.9 A27.85 27.85 0 0 1 10.5 83.66" fill="none" stroke="#9198b0" stroke-width="13.3" /></g></svg>
<span class="t" style="left:1668.43px;top:334.85px;font-size:27px;color:#9198b0;-webkit-text-stroke:0.3px #9198b0;">пн</span>
<svg class="b" style="left:1678.48px;top:766.42px" width="9.43" height="21.36" viewBox="-10 -10 53.00 120"><g transform="translate(0.00 0)"><path d="M4 24 L26.85 4.5 V100" fill="none" stroke="#9198b0" stroke-width="13.3" stroke-linejoin="miter" stroke-miterlimit="2"/></g></svg>
<svg class="b" style="left:1738.40px;top:304.36px" width="30.40" height="22.08" viewBox="-10 -10 165.20 120"><g transform="translate(0.00 0)"><path d="M4.4 0 L63.5 0 L63.5 11.1 L37.3 36.5 L19.8 51.6 L14.3 41.3 L46 11.1 L4.4 11.1z" fill="#9198b0" stroke="#9198b0" stroke-width="1.0"/><path d="M16.98 47.34 A26.4 26.4 0 1 1 7.39 76.86" fill="none" stroke="#9198b0" stroke-width="13.3" /></g><g transform="translate(78.80 0)"><path d="M6.15 31.8 A27.05 28.5 0 0 1 60.25 31.8 V68.2 A27.05 28.5 0 0 1 6.15 68.2z" fill="none" stroke="#9198b0" stroke-width="13.3" /></g></svg>
<span class="t" style="left:1740.54px;top:334.85px;font-size:27px;color:#9198b0;-webkit-text-stroke:0.3px #9198b0;">вт</span>
<svg class="b" style="left:1745.69px;top:766.42px" width="15.82" height="21.36" viewBox="-10 -10 88.90 120"><g transform="translate(0.00 0)"><path d="M39.5 0.5 L6.8 76 H68.9" fill="none" stroke="#9198b0" stroke-width="13.3" stroke-linejoin="miter" stroke-miterlimit="6"/><path d="M52.3 40 V100" fill="none" stroke="#9198b0" stroke-width="13.3" /></g></svg>
<svg class="b" style="left:1811.60px;top:304.36px" width="24.80" height="22.08" viewBox="-10 -10 134.80 120"><g transform="translate(0.00 0)"><path d="M4.4 0 L63.5 0 L63.5 11.1 L37.3 36.5 L19.8 51.6 L14.3 41.3 L46 11.1 L4.4 11.1z" fill="#9198b0" stroke="#9198b0" stroke-width="1.0"/><path d="M16.98 47.34 A26.4 26.4 0 1 1 7.39 76.86" fill="none" stroke="#9198b0" stroke-width="13.3" /></g><g transform="translate(81.80 0)"><path d="M4 24 L26.85 4.5 V100" fill="none" stroke="#9198b0" stroke-width="13.3" stroke-linejoin="miter" stroke-miterlimit="2"/></g></svg>
<span class="t" style="left:1809.73px;top:334.85px;font-size:27px;color:#9198b0;-webkit-text-stroke:0.3px #9198b0;">ср</span>
<svg class="b" style="left:1816.09px;top:766.42px" width="15.82" height="21.36" viewBox="-10 -10 88.90 120"><g transform="translate(0.00 0)"><path d="M39.5 0.5 L6.8 76 H68.9" fill="none" stroke="#9198b0" stroke-width="13.3" stroke-linejoin="miter" stroke-miterlimit="6"/><path d="M52.3 40 V100" fill="none" stroke="#9198b0" stroke-width="13.3" /></g></svg>
<svg class="b" style="left:1890.32px;top:304.36px" width="9.75" height="22.08" viewBox="-10 -10 53.00 120"><g transform="translate(0.00 0)"><path d="M4 24 L26.85 4.5 V100" fill="none" stroke="#9198b0" stroke-width="13.3" stroke-linejoin="miter" stroke-miterlimit="2"/></g></svg>
<span class="t" style="left:1881.18px;top:334.85px;font-size:27px;color:#9198b0;-webkit-text-stroke:0.3px #9198b0;">чт</span>
<svg class="b" style="left:1886.49px;top:766.42px" width="15.82" height="21.36" viewBox="-10 -10 88.90 120"><g transform="translate(0.00 0)"><path d="M39.5 0.5 L6.8 76 H68.9" fill="none" stroke="#9198b0" stroke-width="13.3" stroke-linejoin="miter" stroke-miterlimit="6"/><path d="M52.3 40 V100" fill="none" stroke="#9198b0" stroke-width="13.3" /></g></svg>
<svg class="b" style="left:1957.07px;top:304.36px" width="15.46" height="22.08" viewBox="-10 -10 84.00 120"><g transform="translate(0.00 0)"><path d="M5.96 27.27 A26.8 26.8 0 1 1 52.42 48.93 L13.5 93.85 H64" fill="none" stroke="#9198b0" stroke-width="13.3" stroke-linejoin="miter" stroke-miterlimit="6"/></g></svg>
<span class="t" style="left:1951.30px;top:334.85px;font-size:27px;color:#9198b0;-webkit-text-stroke:0.3px #9198b0;">пт</span>
<svg class="b" style="left:1957.32px;top:766.42px" width="14.95" height="21.36" viewBox="-10 -10 84.00 120"><g transform="translate(0.00 0)"><path d="M5.96 27.27 A26.8 26.8 0 1 1 52.42 48.93 L13.5 93.85 H64" fill="none" stroke="#9198b0" stroke-width="13.3" stroke-linejoin="miter" stroke-miterlimit="6"/></g></svg>
<svg class="b" style="left:2027.36px;top:304.36px" width="15.68" height="22.08" viewBox="-10 -10 85.20 120"><g transform="translate(0.00 0)"><path d="M4.4 0 L63.5 0 L63.5 11.1 L37.3 36.5 L19.8 51.6 L14.3 41.3 L46 11.1 L4.4 11.1z" fill="#9198b0" stroke="#9198b0" stroke-width="1.0"/><path d="M16.98 47.34 A26.4 26.4 0 1 1 7.39 76.86" fill="none" stroke="#9198b0" stroke-width="13.3" /></g></svg>
<span class="t" style="left:2020.72px;top:334.85px;font-size:27px;color:#9198b0;-webkit-text-stroke:0.3px #9198b0;">сб</span>
<svg class="b" style="left:2027.62px;top:766.42px" width="15.17" height="21.36" viewBox="-10 -10 85.20 120"><g transform="translate(0.00 0)"><path d="M4.4 0 L63.5 0 L63.5 11.1 L37.3 36.5 L19.8 51.6 L14.3 41.3 L46 11.1 L4.4 11.1z" fill="#9198b0" stroke="#9198b0" stroke-width="1.0"/><path d="M16.98 47.34 A26.4 26.4 0 1 1 7.39 76.86" fill="none" stroke="#9198b0" stroke-width="13.3" /></g></svg>
<div class="b" style="left:642.00px;top:389.20px;width:472.00px;height:70.50px;background:#0d274d;border-radius:14px;"></div>
<div class="b" style="left:664.40px;top:417.90px;width:12.80px;height:12.80px;background:#e53935;border-radius:7px;"></div>
<span class="t" style="left:716.70px;top:411.10px;font-size:30px;color:#fff;letter-spacing:0.222px;-webkit-text-stroke:0.45px #fff;">Дневник благодарности</span>
<div class="b" style="left:664.40px;top:488.30px;width:12.80px;height:12.80px;background:#7cb342;border-radius:7px;"></div>
<span class="t" style="left:716.70px;top:481.50px;font-size:30px;color:#fff;letter-spacing:-0.044px;-webkit-text-stroke:0.45px #fff;">Дневник успеха</span>
<div class="b" style="left:664.40px;top:558.70px;width:12.80px;height:12.80px;background:#139df2;border-radius:7px;"></div>
<span class="t" style="left:716.70px;top:551.90px;font-size:30px;color:#fff;letter-spacing:-0.476px;-webkit-text-stroke:0.45px #fff;">Практика СТОП-мысль</span>
<div class="b" style="left:664.40px;top:629.10px;width:12.80px;height:12.80px;background:#3f4db0;border-radius:7px;"></div>
<span class="t" style="left:716.70px;top:622.30px;font-size:30px;color:#fff;letter-spacing:-0.178px;-webkit-text-stroke:0.45px #fff;">Пить достаточно воды</span>
<div class="b" style="left:664.40px;top:699.50px;width:12.80px;height:12.80px;background:#fdd835;border-radius:7px;"></div>
<span class="t" style="left:716.70px;top:692.70px;font-size:30px;color:#fff;letter-spacing:-0.291px;-webkit-text-stroke:0.45px #fff;">Вовремя ложиться спать</span>
<svg class="b" style="left:670.00px;top:765.70px;" width="22" height="22" viewBox="0 0 22 22"><path d="M11 1 v20 M1 11 h20" stroke="#1c9cf0" stroke-width="2.300" stroke-linecap="round"/></svg>
<span class="t" style="left:711.50px;top:765.08px;font-size:26.5px;color:#1c9cf0;letter-spacing:-0.716px;-webkit-text-stroke:0.3px #1c9cf0;">Добавить привычку</span>
<svg class="b" style="left:1157px;top:278px;overflow:hidden" width="920" height="532" viewBox="0 0 920 532"><defs><linearGradient id="cg1" gradientUnits="userSpaceOnUse" x1="-63.6" y1="0" x2="60.0" y2="0"><stop offset="0" stop-color="#d34042"/><stop offset="1" stop-color="#dc5656"/></linearGradient><linearGradient id="cg2" gradientUnits="userSpaceOnUse" x1="147.6" y1="0" x2="341.6" y2="0"><stop offset="0" stop-color="#cd2b2b"/><stop offset="1" stop-color="#e26d6d"/></linearGradient><linearGradient id="cg3" gradientUnits="userSpaceOnUse" x1="570.0" y1="0" x2="693.6" y2="0"><stop offset="0" stop-color="#cd2b2b"/><stop offset="1" stop-color="#dc5858"/></linearGradient><linearGradient id="cg4" gradientUnits="userSpaceOnUse" x1="288.4" y1="0" x2="482.4" y2="0"><stop offset="0" stop-color="#558b2f"/><stop offset="1" stop-color="#8dba6c"/></linearGradient><linearGradient id="cg5" gradientUnits="userSpaceOnUse" x1="640.4" y1="0" x2="764.0" y2="0"><stop offset="0" stop-color="#0d84cf"/><stop offset="1" stop-color="#3a9ddc"/></linearGradient><linearGradient id="cg6" gradientUnits="userSpaceOnUse" x1="288.4" y1="0" x2="482.4" y2="0"><stop offset="0" stop-color="#303f9f"/><stop offset="1" stop-color="#7079c6"/></linearGradient><linearGradient id="cg7" gradientUnits="userSpaceOnUse" x1="570.0" y1="0" x2="975.2" y2="0"><stop offset="0" stop-color="#35429f"/><stop offset="1" stop-color="#a3a9db"/></linearGradient><linearGradient id="cg8" gradientUnits="userSpaceOnUse" x1="288.4" y1="0" x2="764.0" y2="0"><stop offset="0" stop-color="#ffeb3b"/><stop offset="1" stop-color="#fff9c4"/></linearGradient><linearGradient id="cg9" gradientUnits="userSpaceOnUse" x1="851.6" y1="0" x2="1045.6" y2="0"><stop offset="0" stop-color="#ffeb3b"/><stop offset="1" stop-color="#fff176"/></linearGradient><linearGradient id="fadeL" x1="0" y1="0" x2="1" y2="0"><stop offset="0" stop-color="#080d21" stop-opacity=".75"/><stop offset="1" stop-color="#080d21" stop-opacity="0"/></linearGradient><linearGradient id="fadeR" x1="0" y1="0" x2="1" y2="0"><stop offset="0" stop-color="#080d21" stop-opacity="0"/><stop offset="1" stop-color="#080d21" stop-opacity=".7"/></linearGradient></defs><path fill-rule="evenodd" fill="url(#cg1)" d="M-63.60 146.30 A26.6 26.6 0 0 1 -19.71 126.09 A27.56 27.56 0 0 0 16.11 126.09 A26.6 26.6 0 0 1 60.00 146.30 A26.6 26.6 0 0 1 16.11 166.51 A27.56 27.56 0 0 0 -19.71 166.51 A26.6 26.6 0 0 1 -63.60 146.30z "/><path fill-rule="evenodd" fill="url(#cg2)" d="M147.60 146.30 A26.6 26.6 0 0 1 191.49 126.09 A27.56 27.56 0 0 0 227.31 126.09 A26.6 26.6 0 0 1 261.89 126.09 A27.56 27.56 0 0 0 297.71 126.09 A26.6 26.6 0 0 1 341.60 146.30 A26.6 26.6 0 0 1 297.71 166.51 A27.56 27.56 0 0 0 261.89 166.51 A26.6 26.6 0 0 1 227.31 166.51 A27.56 27.56 0 0 0 191.49 166.51 A26.6 26.6 0 0 1 147.60 146.30z M230.10 146.30 a14.5 14.5 0 1 0 29.0 0 a14.5 14.5 0 1 0 -29.0 0z "/><path fill-rule="evenodd" fill="url(#cg3)" d="M570.00 146.30 A26.6 26.6 0 0 1 613.89 126.09 A27.56 27.56 0 0 0 649.71 126.09 A26.6 26.6 0 0 1 693.60 146.30 A26.6 26.6 0 0 1 649.71 166.51 A27.56 27.56 0 0 0 613.89 166.51 A26.6 26.6 0 0 1 570.00 146.30z M582.10 146.30 a14.5 14.5 0 1 0 29.0 0 a14.5 14.5 0 1 0 -29.0 0z "/><circle cx="807.80" cy="146.30" r="26.3" fill="#cf2929"/><path fill-rule="evenodd" fill="url(#cg4)" d="M288.40 216.70 A26.6 26.6 0 0 1 332.29 196.49 A27.56 27.56 0 0 0 368.11 196.49 A26.6 26.6 0 0 1 402.69 196.49 A27.56 27.56 0 0 0 438.51 196.49 A26.6 26.6 0 0 1 482.40 216.70 A26.6 26.6 0 0 1 438.51 236.91 A27.56 27.56 0 0 0 402.69 236.91 A26.6 26.6 0 0 1 368.11 236.91 A27.56 27.56 0 0 0 332.29 236.91 A26.6 26.6 0 0 1 288.40 216.70z "/><circle cx="596.60" cy="216.70" r="26.3" fill="#558b2f"/><circle cx="737.40" cy="216.70" r="26.3" fill="#558b2f"/><circle cx="385.40" cy="287.10" r="26.3" fill="#0277bd"/><path fill-rule="evenodd" fill="url(#cg5)" d="M640.40 287.10 A26.6 26.6 0 0 1 684.29 266.89 A27.56 27.56 0 0 0 720.11 266.89 A26.6 26.6 0 0 1 764.00 287.10 A26.6 26.6 0 0 1 720.11 307.31 A27.56 27.56 0 0 0 684.29 307.31 A26.6 26.6 0 0 1 640.40 287.10z "/><circle cx="878.20" cy="287.10" r="26.3" fill="#0277bd"/><path fill-rule="evenodd" fill="url(#cg6)" d="M288.40 357.50 A26.6 26.6 0 0 1 332.29 337.29 A27.56 27.56 0 0 0 368.11 337.29 A26.6 26.6 0 0 1 402.69 337.29 A27.56 27.56 0 0 0 438.51 337.29 A26.6 26.6 0 0 1 482.40 357.50 A26.6 26.6 0 0 1 438.51 377.71 A27.56 27.56 0 0 0 402.69 377.71 A26.6 26.6 0 0 1 368.11 377.71 A27.56 27.56 0 0 0 332.29 377.71 A26.6 26.6 0 0 1 288.40 357.50z "/><path fill-rule="evenodd" fill="url(#cg7)" d="M570.00 357.50 A26.6 26.6 0 0 1 613.89 337.29 A27.56 27.56 0 0 0 649.71 337.29 A26.6 26.6 0 0 1 684.29 337.29 A27.56 27.56 0 0 0 720.11 337.29 A26.6 26.6 0 0 1 754.69 337.29 A27.56 27.56 0 0 0 790.51 337.29 A26.6 26.6 0 0 1 825.09 337.29 A27.56 27.56 0 0 0 860.91 337.29 A26.6 26.6 0 0 1 895.49 337.29 A27.56 27.56 0 0 0 931.31 337.29 A26.6 26.6 0 0 1 965.89 337.29 A27.56 27.56 0 0 0 1001.71 337.29 A26.6 26.6 0 0 1 1045.60 357.50 A26.6 26.6 0 0 1 1001.71 377.71 A27.56 27.56 0 0 0 965.89 377.71 A26.6 26.6 0 0 1 931.31 377.71 A27.56 27.56 0 0 0 895.49 377.71 A26.6 26.6 0 0 1 860.91 377.71 A27.56 27.56 0 0 0 825.09 377.71 A26.6 26.6 0 0 1 790.51 377.71 A27.56 27.56 0 0 0 754.69 377.71 A26.6 26.6 0 0 1 720.11 377.71 A27.56 27.56 0 0 0 684.29 377.71 A26.6 26.6 0 0 1 649.71 377.71 A27.56 27.56 0 0 0 613.89 377.71 A26.6 26.6 0 0 1 570.00 357.50z M582.10 357.50 a14.5 14.5 0 1 0 29.0 0 a14.5 14.5 0 1 0 -29.0 0z "/><path fill-rule="evenodd" fill="url(#cg8)" d="M288.40 427.90 A26.6 26.6 0 0 1 332.29 407.69 A27.56 27.56 0 0 0 368.11 407.69 A26.6 26.6 0 0 1 402.69 407.69 A27.56 27.56 0 0 0 438.51 407.69 A26.6 26.6 0 0 1 473.09 407.69 A27.56 27.56 0 0 0 508.91 407.69 A26.6 26.6 0 0 1 543.49 407.69 A27.56 27.56 0 0 0 579.31 407.69 A26.6 26.6 0 0 1 613.89 407.69 A27.56 27.56 0 0 0 649.71 407.69 A26.6 26.6 0 0 1 684.29 407.69 A27.56 27.56 0 0 0 720.11 407.69 A26.6 26.6 0 0 1 764.00 427.90 A26.6 26.6 0 0 1 720.11 448.11 A27.56 27.56 0 0 0 684.29 448.11 A26.6 26.6 0 0 1 649.71 448.11 A27.56 27.56 0 0 0 613.89 448.11 A26.6 26.6 0 0 1 579.31 448.11 A27.56 27.56 0 0 0 543.49 448.11 A26.6 26.6 0 0 1 508.91 448.11 A27.56 27.56 0 0 0 473.09 448.11 A26.6 26.6 0 0 1 438.51 448.11 A27.56 27.56 0 0 0 402.69 448.11 A26.6 26.6 0 0 1 368.11 448.11 A27.56 27.56 0 0 0 332.29 448.11 A26.6 26.6 0 0 1 288.40 427.90z M300.50 427.90 a14.5 14.5 0 1 0 29.0 0 a14.5 14.5 0 1 0 -29.0 0z M370.90 427.90 a14.5 14.5 0 1 0 29.0 0 a14.5 14.5 0 1 0 -29.0 0z M441.30 427.90 a14.5 14.5 0 1 0 29.0 0 a14.5 14.5 0 1 0 -29.0 0z "/><path fill-rule="evenodd" fill="url(#cg9)" d="M851.60 427.90 A26.6 26.6 0 0 1 895.49 407.69 A27.56 27.56 0 0 0 931.31 407.69 A26.6 26.6 0 0 1 965.89 407.69 A27.56 27.56 0 0 0 1001.71 407.69 A26.6 26.6 0 0 1 1045.60 427.90 A26.6 26.6 0 0 1 1001.71 448.11 A27.56 27.56 0 0 0 965.89 448.11 A26.6 26.6 0 0 1 931.31 448.11 A27.56 27.56 0 0 0 895.49 448.11 A26.6 26.6 0 0 1 851.60 427.90z M863.70 427.90 a14.5 14.5 0 1 0 29.0 0 a14.5 14.5 0 1 0 -29.0 0z "/><circle cx="103.80" cy="146.30" r="24.1" fill="none" stroke="#3d445c" stroke-width="1.800"/><circle cx="385.40" cy="146.30" r="24.1" fill="none" stroke="#3d445c" stroke-width="1.800"/><circle cx="455.80" cy="146.30" r="24.1" fill="none" stroke="#3d445c" stroke-width="1.800"/><circle cx="526.20" cy="146.30" r="24.1" fill="none" stroke="#3d445c" stroke-width="1.800"/><circle cx="737.40" cy="146.30" r="24.1" fill="none" stroke="#3d445c" stroke-width="1.800"/><circle cx="878.20" cy="146.30" r="24.1" fill="none" stroke="#3d445c" stroke-width="1.800"/><circle cx="33.40" cy="216.70" r="24.1" fill="none" stroke="#3d445c" stroke-width="1.800"/><circle cx="103.80" cy="216.70" r="24.1" fill="none" stroke="#3d445c" stroke-width="1.800"/><circle cx="174.20" cy="216.70" r="24.1" fill="none" stroke="#3d445c" stroke-width="1.800"/><circle cx="244.60" cy="216.70" r="24.1" fill="none" stroke="#3d445c" stroke-width="1.800"/><circle cx="526.20" cy="216.70" r="24.1" fill="none" stroke="#3d445c" stroke-width="1.800"/><circle cx="667.00" cy="216.70" r="24.1" fill="none" stroke="#3d445c" stroke-width="1.800"/><circle cx="807.80" cy="216.70" r="24.1" fill="none" stroke="#3d445c" stroke-width="1.800"/><circle cx="878.20" cy="216.70" r="24.1" fill="none" stroke="#3d445c" stroke-width="1.800"/><circle cx="33.40" cy="287.10" r="24.1" fill="none" stroke="#3d445c" stroke-width="1.800"/><circle cx="103.80" cy="287.10" r="24.1" fill="none" stroke="#3d445c" stroke-width="1.800"/><circle cx="174.20" cy="287.10" r="24.1" fill="none" stroke="#3d445c" stroke-width="1.800"/><circle cx="244.60" cy="287.10" r="24.1" fill="none" stroke="#3d445c" stroke-width="1.800"/><circle cx="315.00" cy="287.10" r="24.1" fill="none" stroke="#3d445c" stroke-width="1.800"/><circle cx="455.80" cy="287.10" r="24.1" fill="none" stroke="#3d445c" stroke-width="1.800"/><circle cx="526.20" cy="287.10" r="24.1" fill="none" stroke="#3d445c" stroke-width="1.800"/><circle cx="596.60" cy="287.10" r="24.1" fill="none" stroke="#3d445c" stroke-width="1.800"/><circle cx="807.80" cy="287.10" r="24.1" fill="none" stroke="#3d445c" stroke-width="1.800"/><circle cx="33.40" cy="357.50" r="24.1" fill="none" stroke="#3d445c" stroke-width="1.800"/><circle cx="103.80" cy="357.50" r="24.1" fill="none" stroke="#3d445c" stroke-width="1.800"/><circle cx="174.20" cy="357.50" r="24.1" fill="none" stroke="#3d445c" stroke-width="1.800"/><circle cx="244.60" cy="357.50" r="24.1" fill="none" stroke="#3d445c" stroke-width="1.800"/><circle cx="526.20" cy="357.50" r="24.1" fill="none" stroke="#3d445c" stroke-width="1.800"/><circle cx="33.40" cy="427.90" r="24.1" fill="none" stroke="#3d445c" stroke-width="1.800"/><circle cx="103.80" cy="427.90" r="24.1" fill="none" stroke="#3d445c" stroke-width="1.800"/><circle cx="174.20" cy="427.90" r="24.1" fill="none" stroke="#3d445c" stroke-width="1.800"/><circle cx="244.60" cy="427.90" r="24.1" fill="none" stroke="#3d445c" stroke-width="1.800"/><circle cx="807.80" cy="427.90" r="24.1" fill="none" stroke="#3d445c" stroke-width="1.800"/><rect x="0" y="0" width="8" height="532" fill="url(#fadeL)"/><rect x="912" y="0" width="8" height="532" fill="url(#fadeR)"/></svg>
<div class="b" style="left:650.7px;top:836.8px;width:516.500px;height:301.500px;border:1.500px solid #272e47;border-radius:15px;"></div>
<div class="b" style="left:1193.2px;top:836.8px;width:516.500px;height:301.500px;border:1.500px solid #272e47;border-radius:15px;"></div>
<div class="b" style="left:650.7px;top:1163.8px;width:516.500px;height:301.500px;border:1.500px solid #272e47;border-radius:15px;"></div>
<span class="t" style="left:694.60px;top:863.90px;font-size:26px;color:#fff;letter-spacing:-0.234px;-webkit-text-stroke:0.4px #fff;">Популярная привычка</span>
<svg class="b" style="left:690.80px;top:922.20px" width="155.54" height="66.00" viewBox="-10 -10 282.80 120"><g transform="translate(0.00 0)"><path d="M0 0 L58.7 0 L22.8 100 L9.6 100 L44.3 12 L0 12z" fill="#fff"/></g><g transform="translate(72.30 0)"><path d="M6.15 31.8 A27.05 28.5 0 0 1 60.25 31.8 V68.2 A27.05 28.5 0 0 1 6.15 68.2z" fill="none" stroke="#fff" stroke-width="12.3" /></g><g transform="translate(153.80 0)"><path d="M25.75 4.1 a19.9 19.9 0 1 0 .01 0z M83.2 56.9 a19.9 19.9 0 1 0 .01 0z" fill="none" stroke="#fff" stroke-width="11.6" /><path d="M8.4 96.4 L100.6 4.2" fill="none" stroke="#fff" stroke-width="11.6" /></g></svg>
<div class="b" style="left:693.70px;top:1016.80px;width:311.30px;height:41.00px;background:#3f4db3;border-radius:21px;"></div>
<span class="t" style="left:715.30px;top:1024.90px;font-size:26px;color:#fff;letter-spacing:-0.052px;-webkit-text-stroke:0.4px #fff;">Пить достаточно воды</span>
<span class="t" style="left:694.60px;top:1087.10px;font-size:26px;color:#9198b0;letter-spacing:-0.677px;-webkit-text-stroke:0.3px #9198b0;">Самая длинная серия — 6 дней</span>
<span class="t" style="left:1237.10px;top:863.90px;font-size:26px;color:#fff;letter-spacing:-0.285px;-webkit-text-stroke:0.4px #fff;">Редкая привычка</span>
<svg class="b" style="left:1232.80px;top:922.20px" width="160.16" height="66.00" viewBox="-10 -10 291.20 120"><g transform="translate(0.00 0)"><path d="M4.4 0 L63.5 0 L63.5 11.1 L37.3 36.5 L19.8 51.6 L14.3 41.3 L46 11.1 L4.4 11.1z" fill="#fff"/><path d="M16.98 47.34 A26.4 26.4 0 1 1 7.39 76.86" fill="none" stroke="#fff" stroke-width="12.3" /></g><g transform="translate(78.80 0)"><path d="M34.1 3.85 a27.85 27.85 0 1 0 .01 0z M61.95 31.7 V68.9 A27.85 27.85 0 0 1 10.5 83.66" fill="none" stroke="#fff" stroke-width="12.3" /></g><g transform="translate(162.20 0)"><path d="M25.75 4.1 a19.9 19.9 0 1 0 .01 0z M83.2 56.9 a19.9 19.9 0 1 0 .01 0z" fill="none" stroke="#fff" stroke-width="11.6" /><path d="M8.4 96.4 L100.6 4.2" fill="none" stroke="#fff" stroke-width="11.6" /></g></svg>
<div class="b" style="left:1236.20px;top:1016.80px;width:314.50px;height:41.00px;background:#0f9bea;border-radius:21px;"></div>
<span class="t" style="left:1257.80px;top:1024.90px;font-size:26px;color:#050a1c;letter-spacing:-0.312px;-webkit-text-stroke:0.4px #050a1c;">Практика СТОП-мысль</span>
<span class="t" style="left:1237.10px;top:1087.10px;font-size:26px;color:#9198b0;letter-spacing:-0.769px;-webkit-text-stroke:0.3px #9198b0;">Самая длинная серия — 2 дня</span>
<span class="t" style="left:694.60px;top:1190.70px;font-size:26px;color:#fff;letter-spacing:-0.266px;-webkit-text-stroke:0.4px #fff;">В среднем выполнено</span>
<svg class="b" style="left:691.00px;top:1249.20px" width="160.16" height="66.00" viewBox="-10 -10 291.20 120"><g transform="translate(0.00 0)"><path d="M6 0 L59.9 0 L59.9 12 L17.4 12 L15.5 45 L13.8 53.3 L3 56.9z" fill="#fff"/><path d="M9.57 59.54 A26.4 26.4 0 1 1 8.39 78.86" fill="none" stroke="#fff" stroke-width="12.3" /></g><g transform="translate(79.40 0)"><path d="M39.5 0.5 L6.8 76 H68.9" fill="none" stroke="#fff" stroke-width="12.3" stroke-linejoin="miter" stroke-miterlimit="6"/><path d="M52.3 40 V100" fill="none" stroke="#fff" stroke-width="12.3" /></g><g transform="translate(162.20 0)"><path d="M25.75 4.1 a19.9 19.9 0 1 0 .01 0z M83.2 56.9 a19.9 19.9 0 1 0 .01 0z" fill="none" stroke="#fff" stroke-width="11.6" /><path d="M8.4 96.4 L100.6 4.2" fill="none" stroke="#fff" stroke-width="11.6" /></g></svg>
<span class="t" style="left:694.60px;top:1351.80px;font-size:26px;color:#fff;letter-spacing:0.071px;-webkit-text-stroke:0.4px #fff;">Отличный результат!</span>
<svg class="b" style="left:954.80px;top:1352.10px" width="25" height="25" viewBox="0 0 36 36">
<defs><linearGradient id="gTh" x1="0" y1="0" x2="1" y2="1"><stop offset="0" stop-color="#ffe066"/><stop offset=".5" stop-color="#fccf3c"/><stop offset="1" stop-color="#f0a81e"/></linearGradient></defs>
<path d="M13.500 15 C15.500 11.500 16.200 8 15.200 4.500 14.700 2 16 .500 18 .800 c2.600 .400 4 3 4 6.500 0 2-.300 3.700-.800 5.200 H31 c2.300 0 3.800 1.500 3.800 3.300 0 1.300-.700 2.300-1.700 2.800 .900 .600 1.400 1.500 1.400 2.600 0 1.400-.800 2.500-2 3 .600 .600 .900 1.400 .900 2.200 0 1.500-1 2.700-2.400 3 .300 .500 .400 1 .400 1.500 0 1.800-1.500 3.100-3.400 3.100 H21 c-3.500 0-6-1-8.500-2.600 -1.500-1-3-1.400-5-1.400 H4 C2 30.100 1 28.500 1 26 V19 c0-2.500 1.200-4 3.500-4z" fill="url(#gTh)"/>
<path d="M22.500 19.600 h9.800 M22.800 25 h8.600 M23 30.200 h6.800" stroke="#d88c10" stroke-width="1.200" stroke-linecap="round"/>
<path d="M21.200 13 c-1 2-1 4.500 0 6.500" fill="none" stroke="#e09a16" stroke-width="1" stroke-linecap="round"/></svg>
<span class="t" style="left:694.60px;top:1414.20px;font-size:26px;color:#9198b0;letter-spacing:-0.344px;-webkit-text-stroke:0.3px #9198b0;">Привычки выполнены 65 раз</span>
<div class="b" style="left:2112.50px;top:161.00px;width:1.50px;height:1507.00px;background:#262d47;"></div>
<span class="t" style="left:2145.30px;top:206.02px;font-size:35.5px;color:#fff;letter-spacing:-0.646px;-webkit-text-stroke:0.6px #fff;">Изменить привычку</span>
<div class="b" style="left:2735.80px;top:221.15px;width:5.20px;height:5.20px;background:#a2aac3;border-radius:3px;"></div>
<div class="b" style="left:2746.80px;top:221.15px;width:5.20px;height:5.20px;background:#a2aac3;border-radius:3px;"></div>
<div class="b" style="left:2757.80px;top:221.15px;width:5.20px;height:5.20px;background:#a2aac3;border-radius:3px;"></div>
<svg class="b" style="left:2805.00px;top:212.75px;" width="22" height="22" viewBox="0 0 22 22"><path d="M1.500 1.500 l19 19 M20.500 1.500 l-19 19" stroke="#a2aac3" stroke-width="2.200" stroke-linecap="round"/></svg>
<div class="b" style="left:2145px;top:294.500px;width:530px;height:57px;background:#121a38;border:2px solid #17538c;border-radius:10px;"></div>
<span class="t" style="left:2173.00px;top:309.38px;font-size:30.5px;color:#fff;letter-spacing:-0.088px;-webkit-text-stroke:0.45px #fff;">Дневник благодарности</span>
<div class="b" style="left:2173px;top:337.300px;width:334px;height:3px;background:radial-gradient(circle at 1.500px 1.500px,#e53935 1.300px,transparent 1.600px) 0 0/5.300px 3px repeat-x;"></div>
<div class="b" style="left:2507.80px;top:304.50px;width:1.60px;height:36.50px;background:#ffffff;"></div>
<div class="b" style="left:2145.00px;top:376.90px;width:530.00px;height:132.00px;background:#121a38;border-radius:10px;"></div>
<span class="t" style="left:2172.50px;top:392.07px;font-size:30.5px;color:#9198b0;letter-spacing:-0.678px;-webkit-text-stroke:0.3px #9198b0;">Описание</span>
<div class="b" style="left:2145.00px;top:534.30px;width:52.00px;height:52.00px;background:#e53935;border-radius:8px;"></div>
<div class="b" style="left:2204.75px;top:534.30px;width:52.00px;height:52.00px;background:#d81b60;border-radius:8px;"></div>
<div class="b" style="left:2264.50px;top:534.30px;width:52.00px;height:52.00px;background:#8e24aa;border-radius:8px;"></div>
<div class="b" style="left:2324.25px;top:534.30px;width:52.00px;height:52.00px;background:#5e35b1;border-radius:8px;"></div>
<div class="b" style="left:2384.00px;top:534.30px;width:52.00px;height:52.00px;background:#3949ab;border-radius:8px;"></div>
<div class="b" style="left:2443.75px;top:534.30px;width:52.00px;height:52.00px;background:#039be5;border-radius:8px;"></div>
<div class="b" style="left:2503.50px;top:534.30px;width:52.00px;height:52.00px;background:#00acc1;border-radius:8px;"></div>
<div class="b" style="left:2563.25px;top:534.30px;width:52.00px;height:52.00px;background:#00897b;border-radius:8px;"></div>
<div class="b" style="left:2623.00px;top:534.30px;width:52.00px;height:52.00px;background:#43a047;border-radius:8px;"></div>
<div class="b" style="left:2145.00px;top:594.20px;width:52.00px;height:52.00px;background:#7cb342;border-radius:8px;"></div>
<div class="b" style="left:2204.75px;top:594.20px;width:52.00px;height:52.00px;background:#c0ca33;border-radius:8px;"></div>
<div class="b" style="left:2264.50px;top:594.20px;width:52.00px;height:52.00px;background:#fdd835;border-radius:8px;"></div>
<div class="b" style="left:2324.25px;top:594.20px;width:52.00px;height:52.00px;background:#ffb300;border-radius:8px;"></div>
<div class="b" style="left:2384.00px;top:594.20px;width:52.00px;height:52.00px;background:#fb8c00;border-radius:8px;"></div>
<div class="b" style="left:2443.75px;top:594.20px;width:52.00px;height:52.00px;background:#f4511e;border-radius:8px;"></div>
<div class="b" style="left:2503.50px;top:594.20px;width:52.00px;height:52.00px;background:#6d4c41;border-radius:8px;"></div>
<div class="b" style="left:2563.25px;top:594.20px;width:52.00px;height:52.00px;background:#757575;border-radius:8px;"></div>
<div class="b" style="left:2623.00px;top:594.20px;width:52.00px;height:52.00px;background:#546e7a;border-radius:8px;"></div>
<svg class="b" style="left:2160.00px;top:551.30px;" width="22" height="18" viewBox="0 0 22 18"><path d="M2.500 9.500 l5.800 5.800 L19.500 2.500" fill="none" stroke="#fff" stroke-width="2.800" stroke-linecap="round" stroke-linejoin="round"/></svg>
<div class="b" style="left:2145.00px;top:683.70px;width:151.40px;height:57.60px;background:#0a1433;border-radius:8px;"></div>
<span class="t" style="left:2167.95px;top:698.10px;font-size:30px;color:#fff;letter-spacing:-0.428px;-webkit-text-stroke:0.45px #fff;">Отмена</span>
<div class="b" style="left:2321.00px;top:683.70px;width:195.80px;height:57.60px;background:#169ae6;border-radius:8px;"></div>
<span class="t" style="left:2343.90px;top:698.10px;font-size:30px;color:#fff;letter-spacing:0.115px;-webkit-text-stroke:0.45px #fff;">Сохранить</span>
<span class="t" style="left:2145.30px;top:869.93px;font-size:25.5px;color:#9198b0;letter-spacing:0.507px;-webkit-text-stroke:0.3px #9198b0;">Статистика</span>
<span class="t" style="left:2145.30px;top:930.72px;font-size:29.5px;color:#fff;letter-spacing:-0.285px;-webkit-text-stroke:0.7px #fff;">Январь</span>
<svg class="b" style="left:2253.77px;top:933.46px" width="67.77" height="24.48" viewBox="-10 -10 332.20 120"><g transform="translate(0.00 0)"><path d="M5.96 27.27 A26.8 26.8 0 1 1 52.42 48.93 L13.5 93.85 H64" fill="none" stroke="#fff" stroke-width="15.700000000000001" stroke-linejoin="miter" stroke-miterlimit="6"/></g><g transform="translate(80.50 0)"><path d="M6.15 31.8 A27.05 28.5 0 0 1 60.25 31.8 V68.2 A27.05 28.5 0 0 1 6.15 68.2z" fill="none" stroke="#fff" stroke-width="15.700000000000001" /></g><g transform="translate(163.40 0)"><path d="M5.96 27.27 A26.8 26.8 0 1 1 52.42 48.93 L13.5 93.85 H64" fill="none" stroke="#fff" stroke-width="15.700000000000001" stroke-linejoin="miter" stroke-miterlimit="6"/></g><g transform="translate(243.90 0)"><g transform="rotate(180 34.15 50)"><path d="M34.1 3.85 a27.85 27.85 0 1 0 .01 0z M61.95 31.7 V68.9 A27.85 27.85 0 0 1 10.5 83.66" fill="none" stroke="#fff" stroke-width="15.700000000000001" /></g></g></svg>
<svg class="b" style="left:2591.00px;top:933.60px;" width="14" height="22" viewBox="0 0 14 22"><path d="M11.500 1.500 L2 11 l9.500 9.500" stroke="#1c9cf0" fill="none" stroke-width="2.600" stroke-linecap="round" stroke-linejoin="round"/></svg>
<svg class="b" style="left:2661.00px;top:933.60px;" width="14" height="22" viewBox="0 0 14 22"><path d="M2.500 1.500 L12 11 l-9.500 9.500" stroke="#4a5169" fill="none" stroke-width="2.600" stroke-linecap="round" stroke-linejoin="round"/></svg>
<svg class="b" style="left:2140px;top:985px" width="560" height="240" viewBox="0 0 560 240"><defs><linearGradient id="mcg" gradientUnits="userSpaceOnUse" x1="4.4" y1="0" x2="299.7" y2="0"><stop offset="0" stop-color="#cd2b2b"/><stop offset="1" stop-color="#e88686"/></linearGradient></defs><circle cx="191.40" cy="35.60" r="28.300" fill="none" stroke="#3d445c" stroke-width="1.800"/><circle cx="270.10" cy="35.60" r="29.6" fill="#cf2929"/><circle cx="348.80" cy="35.60" r="28.300" fill="none" stroke="#3d445c" stroke-width="1.800"/><circle cx="427.50" cy="35.60" r="29.6" fill="#cf2929"/><circle cx="506.20" cy="35.60" r="28.300" fill="none" stroke="#3d445c" stroke-width="1.800"/><path fill-rule="evenodd" fill="url(#mcg)" d="M4.40 114.30 A29.6 29.6 0 0 1 55.64 94.10 A24.23 24.23 0 0 0 91.06 94.10 A29.6 29.6 0 0 1 134.34 94.10 A24.23 24.23 0 0 0 169.76 94.10 A29.6 29.6 0 0 1 213.04 94.10 A24.23 24.23 0 0 0 248.46 94.10 A29.6 29.6 0 0 1 299.70 114.30 A29.6 29.6 0 0 1 248.46 134.50 A24.23 24.23 0 0 0 213.04 134.50 A29.6 29.6 0 0 1 169.76 134.50 A24.23 24.23 0 0 0 134.34 134.50 A29.6 29.6 0 0 1 91.06 134.50 A24.23 24.23 0 0 0 55.64 134.50 A29.6 29.6 0 0 1 4.40 114.30z M94.20 114.30 a18.5 18.5 0 1 0 37.0 0 a18.5 18.5 0 1 0 -37.0 0z M172.90 114.30 a18.5 18.5 0 1 0 37.0 0 a18.5 18.5 0 1 0 -37.0 0z "/><circle cx="348.80" cy="114.30" r="28.300" fill="none" stroke="#3d445c" stroke-width="1.800"/><circle cx="427.50" cy="114.30" r="29.6" fill="#cf2929"/><circle cx="506.20" cy="114.30" r="28.300" fill="none" stroke="#3d445c" stroke-width="1.800"/><circle cx="34.00" cy="193.00" r="28.300" fill="none" stroke="#3d445c" stroke-width="1.800"/><circle cx="112.70" cy="193.00" r="28.300" fill="none" stroke="#3d445c" stroke-width="1.800"/></svg>
<span class="t" style="left:2145.30px;top:1242.30px;font-size:26px;color:#fff;letter-spacing:-0.545px;-webkit-text-stroke:0.3px #fff;">Текущая серия</span>
<svg class="b" style="left:2657.26px;top:1247.34px" width="17.80" height="24.72" viewBox="-10 -10 86.40 120"><g transform="translate(0.00 0)"><path d="M6.15 31.8 A27.05 28.5 0 0 1 60.25 31.8 V68.2 A27.05 28.5 0 0 1 6.15 68.2z" fill="none" stroke="#fff" stroke-width="13.100000000000001" /></g></svg>
<span class="t" style="left:2145.30px;top:1292.30px;font-size:26px;color:#fff;letter-spacing:-0.412px;-webkit-text-stroke:0.3px #fff;">Максимальная серия</span>
<svg class="b" style="left:2656.75px;top:1296.04px" width="18.31" height="24.72" viewBox="-10 -10 88.90 120"><g transform="translate(0.00 0)"><path d="M39.5 0.5 L6.8 76 H68.9" fill="none" stroke="#fff" stroke-width="13.100000000000001" stroke-linejoin="miter" stroke-miterlimit="6"/><path d="M52.3 40 V100" fill="none" stroke="#fff" stroke-width="13.100000000000001" /></g></svg>
<span class="t" style="left:2145.30px;top:1341.65px;font-size:26px;color:#fff;letter-spacing:-0.672px;-webkit-text-stroke:0.3px #fff;">Общий счет</span>
<svg class="b" style="left:2647.15px;top:1346.34px" width="27.91" height="24.72" viewBox="-10 -10 135.50 120"><g transform="translate(0.00 0)"><path d="M4 24 L26.85 4.5 V100" fill="none" stroke="#fff" stroke-width="13.100000000000001" stroke-linejoin="miter" stroke-miterlimit="2"/></g><g transform="translate(46.60 0)"><path d="M39.5 0.5 L6.8 76 H68.9" fill="none" stroke="#fff" stroke-width="13.100000000000001" stroke-linejoin="miter" stroke-miterlimit="6"/><path d="M52.3 40 V100" fill="none" stroke="#fff" stroke-width="13.100000000000001" /></g></svg>
<span class="t" style="left:2145.30px;top:1444.60px;font-size:26px;color:#9198b0;letter-spacing:-0.094px;-webkit-text-stroke:0.3px #9198b0;">Успешность привычки</span>
<span class="t" style="left:2145.30px;top:1494.60px;font-size:26px;color:#fff;letter-spacing:-0.378px;-webkit-text-stroke:0.3px #fff;">Неделя</span>
<span class="t" style="left:2360.50px;top:1494.60px;font-size:26px;color:#fff;letter-spacing:-0.273px;-webkit-text-stroke:0.3px #fff;">Месяц</span>
<span class="t" style="left:2573.70px;top:1494.60px;font-size:26px;color:#fff;letter-spacing:-0.703px;-webkit-text-stroke:0.3px #fff;">Год</span>
<div class="b" style="left:2304.00px;top:1491.40px;width:1.50px;height:114.50px;background:#252c46;"></div>
<div class="b" style="left:2517.20px;top:1491.40px;width:1.50px;height:114.50px;background:#252c46;"></div>
<svg class="b" style="left:2142.90px;top:1554.30px" width="106.93" height="44.40" viewBox="-10 -10 289.00 120"><g transform="translate(0.00 0)"><path d="M4.4 0 L63.5 0 L63.5 11.1 L37.3 36.5 L19.8 51.6 L14.3 41.3 L46 11.1 L4.4 11.1z" fill="#fff"/><path d="M16.98 47.34 A26.4 26.4 0 1 1 7.39 76.86" fill="none" stroke="#fff" stroke-width="12.3" /></g><g transform="translate(77.70 0)"><g transform="rotate(180 34.15 50)"><path d="M34.1 3.85 a27.85 27.85 0 1 0 .01 0z M61.95 31.7 V68.9 A27.85 27.85 0 0 1 10.5 83.66" fill="none" stroke="#fff" stroke-width="12.3" /></g></g><g transform="translate(160.00 0)"><path d="M25.75 4.1 a19.9 19.9 0 1 0 .01 0z M83.2 56.9 a19.9 19.9 0 1 0 .01 0z" fill="none" stroke="#fff" stroke-width="11.6" /><path d="M8.4 96.4 L100.6 4.2" fill="none" stroke="#fff" stroke-width="11.6" /></g></svg>
<svg class="b" style="left:2358.70px;top:1554.30px" width="105.67" height="44.40" viewBox="-10 -10 285.60 120"><g transform="translate(0.00 0)"><path d="M39.5 0.5 L6.8 76 H68.9" fill="none" stroke="#fff" stroke-width="12.3" stroke-linejoin="miter" stroke-miterlimit="6"/><path d="M52.3 40 V100" fill="none" stroke="#fff" stroke-width="12.3" /></g><g transform="translate(79.40 0)"><path d="M4.4 0 L63.5 0 L63.5 11.1 L37.3 36.5 L19.8 51.6 L14.3 41.3 L46 11.1 L4.4 11.1z" fill="#fff"/><path d="M16.98 47.34 A26.4 26.4 0 1 1 7.39 76.86" fill="none" stroke="#fff" stroke-width="12.3" /></g><g transform="translate(156.60 0)"><path d="M25.75 4.1 a19.9 19.9 0 1 0 .01 0z M83.2 56.9 a19.9 19.9 0 1 0 .01 0z" fill="none" stroke="#fff" stroke-width="11.6" /><path d="M8.4 96.4 L100.6 4.2" fill="none" stroke="#fff" stroke-width="11.6" /></g></svg>
<svg class="b" style="left:2571.20px;top:1554.30px" width="106.41" height="44.40" viewBox="-10 -10 287.60 120"><g transform="translate(0.00 0)"><path d="M39.5 0.5 L6.8 76 H68.9" fill="none" stroke="#fff" stroke-width="12.3" stroke-linejoin="miter" stroke-miterlimit="6"/><path d="M52.3 40 V100" fill="none" stroke="#fff" stroke-width="12.3" /></g><g transform="translate(80.40 0)"><path d="M4.4 0 L63.5 0 L63.5 11.1 L37.3 36.5 L19.8 51.6 L14.3 41.3 L46 11.1 L4.4 11.1z" fill="#fff"/><path d="M16.98 47.34 A26.4 26.4 0 1 1 7.39 76.86" fill="none" stroke="#fff" stroke-width="12.3" /></g><g transform="translate(158.60 0)"><path d="M25.75 4.1 a19.9 19.9 0 1 0 .01 0z M83.2 56.9 a19.9 19.9 0 1 0 .01 0z" fill="none" stroke="#fff" stroke-width="11.6" /><path d="M8.4 96.4 L100.6 4.2" fill="none" stroke="#fff" stroke-width="11.6" /></g></svg>
<svg class="b" style="left:2677.9px;top:1481.2px" width="220" height="220" viewBox="-110 -110 220 220">
<defs>
<radialGradient id="aiGlow" cx="0" cy="0" r="100" gradientUnits="userSpaceOnUse"><stop offset=".50" stop-color="#4060e8" stop-opacity=".50"/><stop offset=".60" stop-color="#3a55d8" stop-opacity=".36"/><stop offset=".75" stop-color="#3045b8" stop-opacity=".17"/><stop offset=".9" stop-color="#283890" stop-opacity=".05"/><stop offset="1" stop-color="#202870" stop-opacity="0"/></radialGradient>
<linearGradient id="aiRing" x1="-45" y1="40" x2="42" y2="-42" gradientUnits="userSpaceOnUse"><stop offset="0" stop-color="#477bf0"/><stop offset=".45" stop-color="#5c8cf5"/><stop offset=".75" stop-color="#9682f5"/><stop offset="1" stop-color="#b482f5"/></linearGradient>
<linearGradient id="aiIn" x1="-40" y1="30" x2="35" y2="-40" gradientUnits="userSpaceOnUse"><stop offset="0" stop-color="#1b2a52"/><stop offset=".6" stop-color="#2c2f63"/><stop offset="1" stop-color="#42347a"/></linearGradient>
<radialGradient id="aiIn3" cx="-8" cy="2" r="34" gradientUnits="userSpaceOnUse"><stop offset="0" stop-color="#4a1858"/><stop offset=".35" stop-color="#24103a"/><stop offset=".7" stop-color="#0a0a1c"/><stop offset="1" stop-color="#06081a"/></radialGradient>
</defs>
<circle cx="0" cy="0" r="100" fill="url(#aiGlow)"/>
<circle cx="0" cy="0" r="53.850" fill="url(#aiIn)" stroke="url(#aiRing)" stroke-width="7.300"/>
<circle cx="0" cy="5.500" r="42.500" fill="#1a1c3b"/>
<circle cx="0" cy="17.500" r="30.500" fill="url(#aiIn3)"/>
<path d="M5.700 -24.500 C7.700 -10 11 -7 24.500 -5.300 C11 -3.600 7.700 -0.600 5.700 13.900 C3.700 -0.600 0.400 -3.600 -13.100 -5.300 C0.400 -7 3.700 -10 5.700 -24.500z" fill="#fff"/>
<path d="M-13.200 1.900 C-12.100 10.200 -10.300 11.900 -2.300 12.800 C-10.300 13.700 -12.100 15.400 -13.200 23.700 C-14.300 15.400 -16.100 13.700 -24.100 12.800 C-16.100 11.900 -14.300 10.200 -13.200 1.900z" fill="#e4e4ee"/>
</svg>
</div>
</body></html>
